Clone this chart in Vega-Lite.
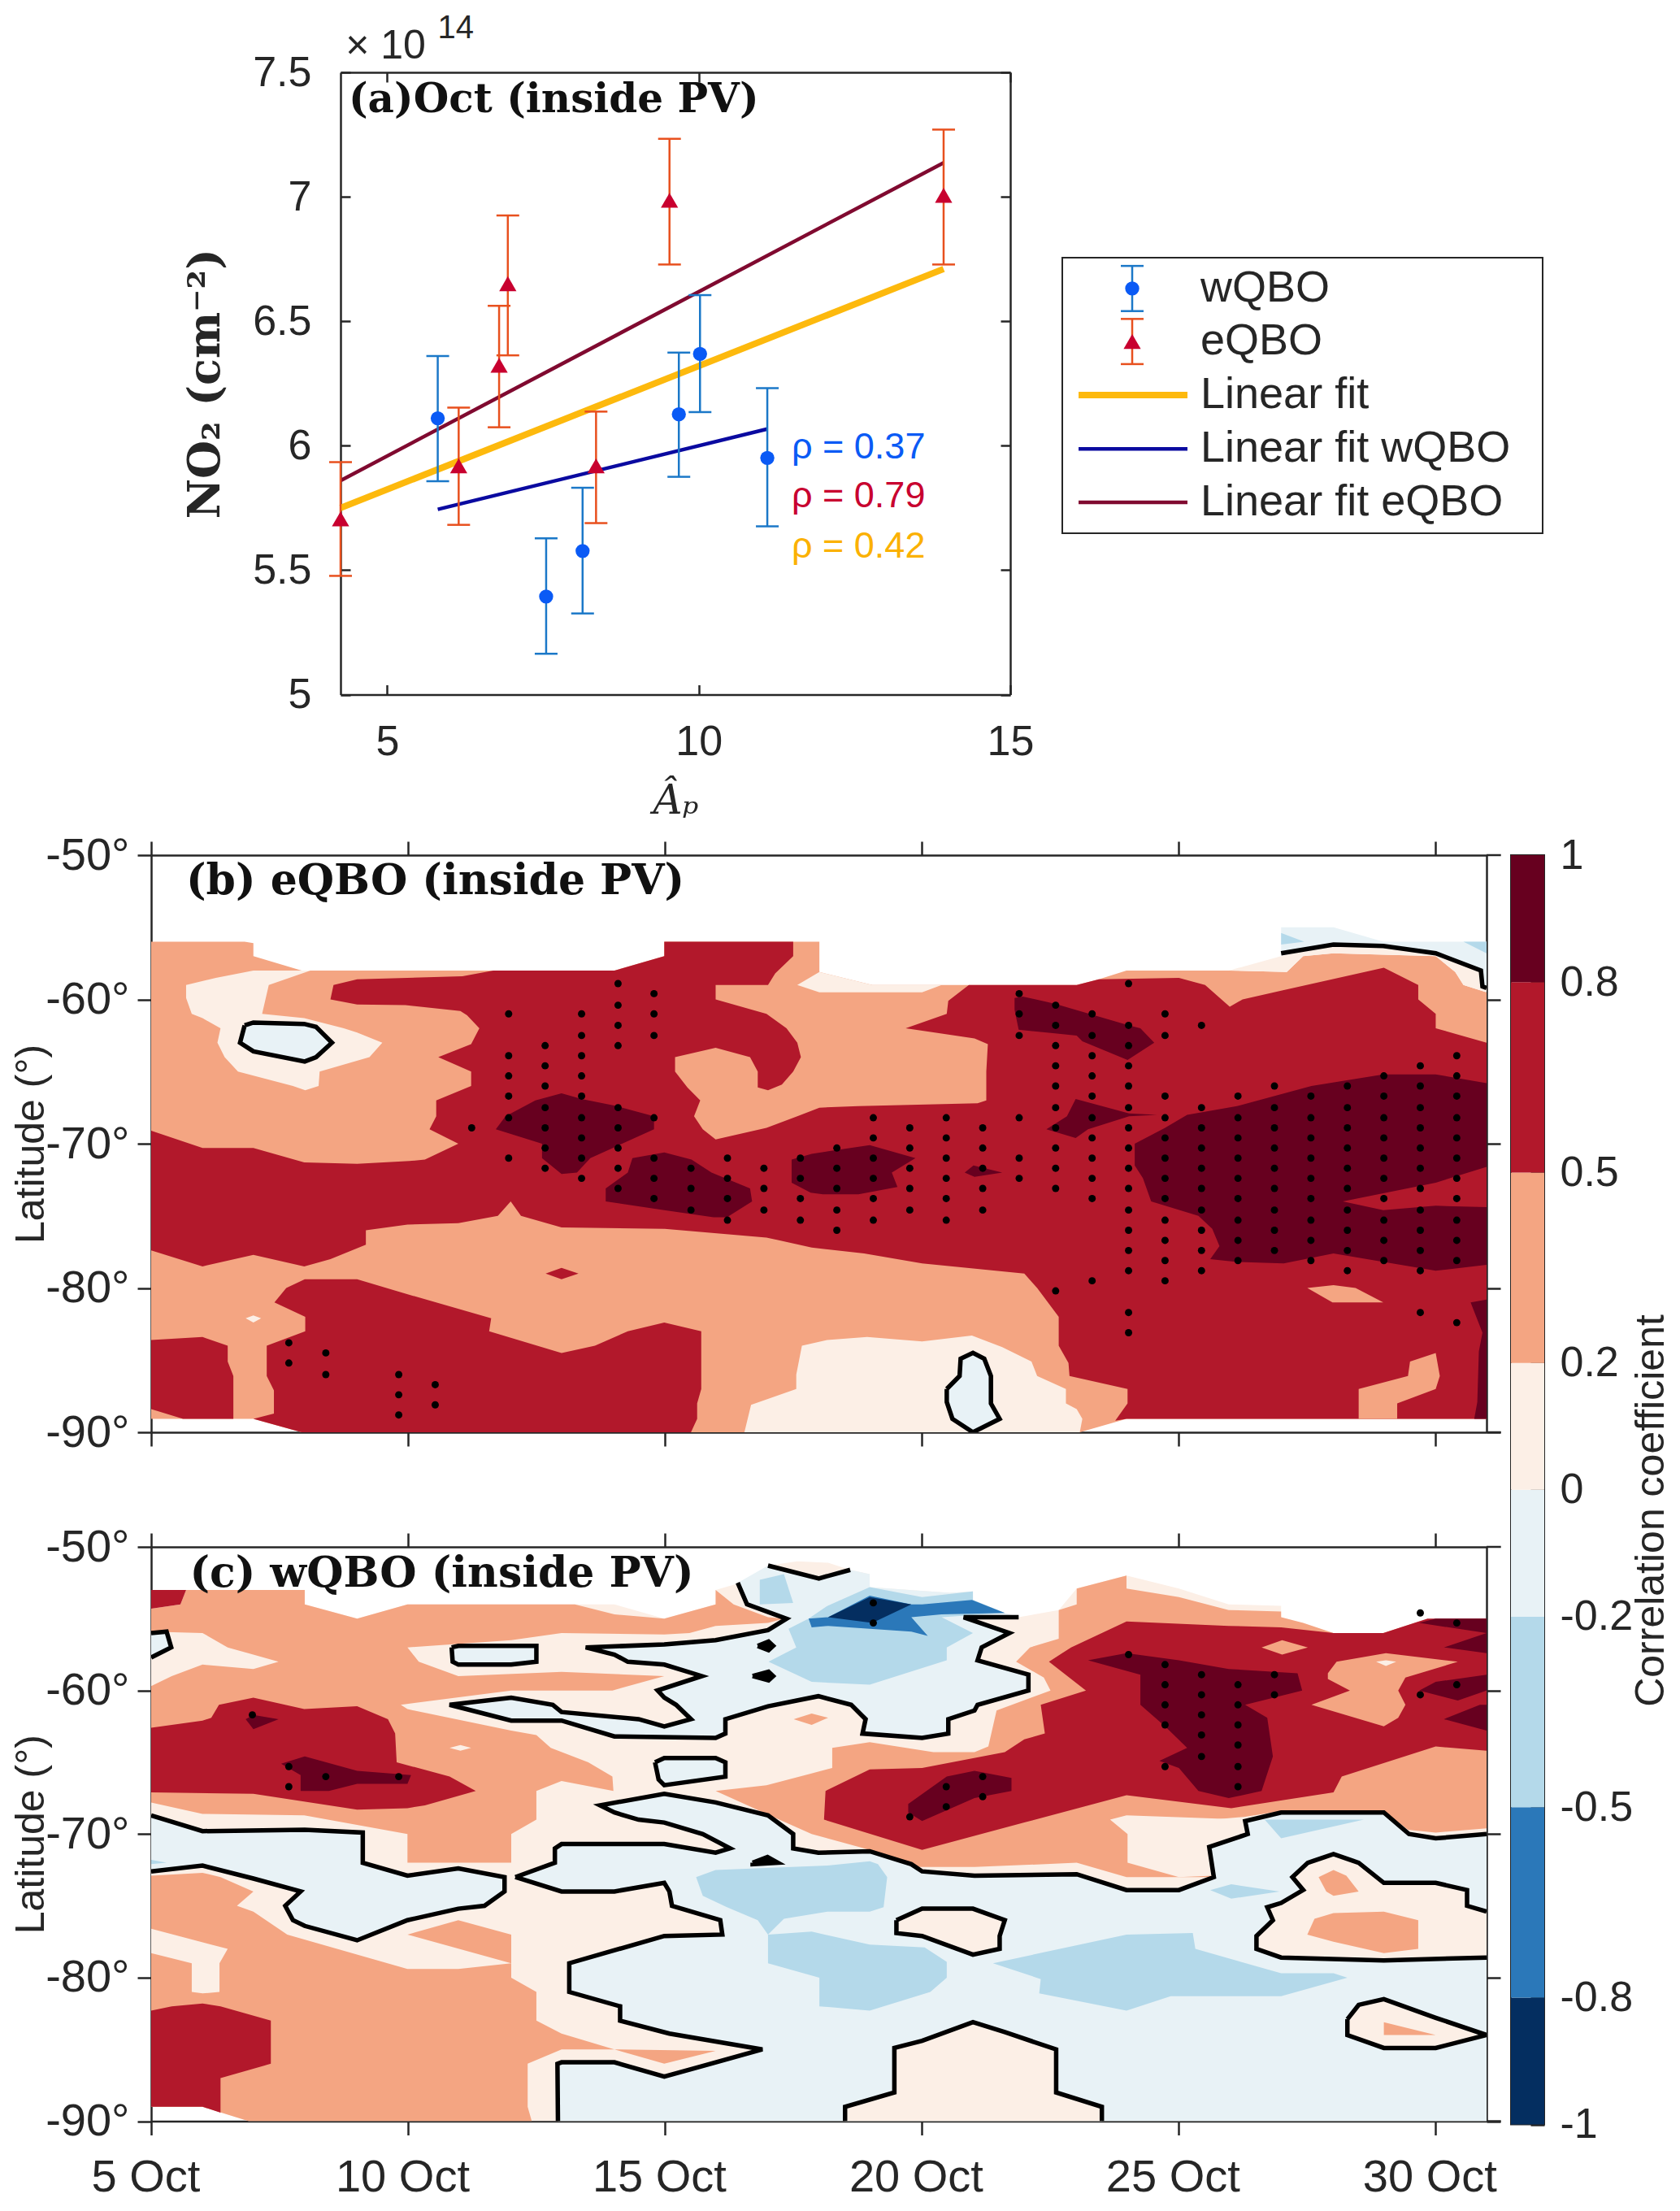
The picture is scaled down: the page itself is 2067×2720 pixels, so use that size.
{"$schema":"https://vega.github.io/schema/vega-lite/v6.json","background":"white","padding":{"left":13,"top":15,"right":0,"bottom":0},
"config":{"view":{"stroke":null},"font":"Liberation Sans","axis":{"grid":false,"labelFlush":false,"domainColor":"#262626","domainWidth":2.5,"tickColor":"#262626","tickWidth":2.5,"labelColor":"#262626","labelFont":"Liberation Sans","labelFontSize":52,"titleFont":"Liberation Sans","titleFontWeight":"normal","titleColor":"#262626"}},
"datasets":{
"pts":[{"s":"w","x":5.81,"y":6.11,"lo":5.857,"hi":6.36},{"s":"w","x":7.55,"y":5.394,"lo":5.164,"hi":5.628},{"s":"w","x":8.135,"y":5.577,"lo":5.326,"hi":5.831},{"s":"w","x":9.68,"y":6.126,"lo":5.875,"hi":6.374},{"s":"w","x":10.02,"y":6.369,"lo":6.135,"hi":6.605},{"s":"w","x":11.1,"y":5.951,"lo":5.676,"hi":6.231},{"s":"e","x":4.25,"y":5.706,"lo":5.477,"hi":5.934},{"s":"e","x":6.146,"y":5.919,"lo":5.682,"hi":6.153},{"s":"e","x":6.795,"y":6.323,"lo":6.074,"hi":6.562},{"s":"e","x":6.935,"y":6.651,"lo":6.363,"hi":6.925},{"s":"e","x":8.351,"y":5.919,"lo":5.689,"hi":6.137},{"s":"e","x":9.53,"y":6.986,"lo":6.728,"hi":7.233},{"s":"e","x":13.93,"y":7.006,"lo":6.728,"hi":7.27}],
"fits":[{"s":"all","x":4.25,"y":5.75},{"s":"all","x":13.93,"y":6.71},{"s":"w","x":5.81,"y":5.744},{"s":"w","x":11.1,"y":6.067},{"s":"e","x":4.25,"y":5.86},{"s":"e","x":13.93,"y":7.137}],
"rho":[{"t":"ρ = 0.37","x":11.49,"y":5.995,"c":"w"},{"t":"ρ = 0.79","x":11.49,"y":5.798,"c":"e"},{"t":"ρ = 0.42","x":11.49,"y":5.595,"c":"all"}],
"cb":[{"lo":-1,"hi":-0.8,"v":-0.9},{"lo":-0.8,"hi":-0.5,"v":-0.65},{"lo":-0.5,"hi":-0.2,"v":-0.35},{"lo":-0.2,"hi":0,"v":-0.1},{"lo":0,"hi":0.2,"v":0.1},{"lo":0.2,"hi":0.5,"v":0.35},{"lo":0.5,"hi":0.8,"v":0.65},{"lo":0.8,"hi":1,"v":0.9}],
"leg":[{"t":"wQBO","x":0.3275,"y":0.469},{"t":"eQBO","x":0.3275,"y":0.584},{"t":"Linear fit","x":0.3275,"y":0.7},{"t":"Linear fit wQBO","x":0.3275,"y":0.817},{"t":"Linear fit eQBO","x":0.3275,"y":0.933}],
"db":[{"d":7.68,"l":-83.8},{"d":7.68,"l":-85.2},{"d":8.4,"l":-84.5},{"d":8.4,"l":-86},{"d":9.82,"l":-86},{"d":9.82,"l":-87.4},{"d":9.82,"l":-88.8},{"d":10.53,"l":-86.7},{"d":10.53,"l":-88.1},{"d":11.24,"l":-68.9},
{"d":11.96,"l":-61},{"d":11.96,"l":-63.9},{"d":11.96,"l":-65.3},{"d":11.96,"l":-66.7},{"d":11.96,"l":-68.2},{"d":11.96,"l":-71},
{"d":12.67,"l":-63.2},{"d":12.67,"l":-64.6},{"d":12.67,"l":-66},{"d":12.67,"l":-67.5},{"d":12.67,"l":-68.9},{"d":12.67,"l":-70.3},{"d":12.67,"l":-71.7},
{"d":13.38,"l":-61},{"d":13.38,"l":-62.5},{"d":13.38,"l":-63.9},{"d":13.38,"l":-65.3},{"d":13.38,"l":-66.7},{"d":13.38,"l":-68.2},{"d":13.38,"l":-69.6},{"d":13.38,"l":-71},{"d":13.38,"l":-72.4},
{"d":14.09,"l":-58.9},{"d":14.09,"l":-60.4},{"d":14.09,"l":-61.8},{"d":14.09,"l":-63.2},{"d":14.09,"l":-67.5},{"d":14.09,"l":-68.9},{"d":14.09,"l":-70.3},{"d":14.09,"l":-71.7},{"d":14.09,"l":-73.1},
{"d":14.79,"l":-59.6},{"d":14.79,"l":-61},{"d":14.79,"l":-62.5},{"d":14.79,"l":-68.2},{"d":14.79,"l":-71},{"d":14.79,"l":-72.4},{"d":14.79,"l":-73.8},
{"d":15.51,"l":-71.7},{"d":15.51,"l":-73.1},{"d":15.51,"l":-74.6},{"d":16.22,"l":-71},{"d":16.22,"l":-72.4},{"d":16.22,"l":-73.8},{"d":16.22,"l":-75.3},{"d":16.93,"l":-71.7},{"d":16.93,"l":-73.1},{"d":16.93,"l":-74.6},{"d":17.64,"l":-71},{"d":17.64,"l":-72.4},{"d":17.64,"l":-73.8},{"d":17.64,"l":-75.3},
{"d":18.35,"l":-70.3},{"d":18.35,"l":-71.7},{"d":18.35,"l":-73.1},{"d":18.35,"l":-74.6},{"d":18.35,"l":-76},
{"d":19.06,"l":-68.2},{"d":19.06,"l":-69.6},{"d":19.06,"l":-71},{"d":19.06,"l":-72.4},{"d":19.06,"l":-73.8},{"d":19.06,"l":-75.3},
{"d":19.77,"l":-68.9},{"d":19.77,"l":-70.3},{"d":19.77,"l":-71.7},{"d":19.77,"l":-73.1},{"d":19.77,"l":-74.6},
{"d":20.48,"l":-68.2},{"d":20.48,"l":-69.6},{"d":20.48,"l":-71},{"d":20.48,"l":-72.4},{"d":20.48,"l":-73.8},{"d":20.48,"l":-75.3},
{"d":21.19,"l":-68.9},{"d":21.19,"l":-70.3},{"d":21.19,"l":-71.7},{"d":21.19,"l":-73.1},{"d":21.19,"l":-74.6},
{"d":21.9,"l":-59.6},{"d":21.9,"l":-61},{"d":21.9,"l":-62.5},{"d":21.9,"l":-68.2},{"d":21.9,"l":-71},{"d":21.9,"l":-72.4},
{"d":22.61,"l":-60.4},{"d":22.61,"l":-61.8},{"d":22.61,"l":-63.2},{"d":22.61,"l":-64.6},{"d":22.61,"l":-66},{"d":22.61,"l":-67.5},{"d":22.61,"l":-68.9},{"d":22.61,"l":-70.3},{"d":22.61,"l":-71.7},{"d":22.61,"l":-73.1},{"d":22.61,"l":-80.2},
{"d":23.32,"l":-61},{"d":23.32,"l":-62.5},{"d":23.32,"l":-63.9},{"d":23.32,"l":-65.3},{"d":23.32,"l":-66.7},{"d":23.32,"l":-68.2},{"d":23.32,"l":-69.6},{"d":23.32,"l":-71},{"d":23.32,"l":-72.4},{"d":23.32,"l":-73.8},{"d":23.32,"l":-79.5},
{"d":24.03,"l":-58.9},{"d":24.03,"l":-61.8},{"d":24.03,"l":-63.2},{"d":24.03,"l":-64.6},{"d":24.03,"l":-66},{"d":24.03,"l":-67.5},{"d":24.03,"l":-68.9},{"d":24.03,"l":-70.3},{"d":24.03,"l":-71.7},{"d":24.03,"l":-73.1},{"d":24.03,"l":-74.6},{"d":24.03,"l":-76},{"d":24.03,"l":-77.4},{"d":24.03,"l":-78.8},{"d":24.03,"l":-81.7},{"d":24.03,"l":-83.1},
{"d":24.74,"l":-61},{"d":24.74,"l":-62.5},{"d":24.74,"l":-66.7},{"d":24.74,"l":-68.2},{"d":24.74,"l":-69.6},{"d":24.74,"l":-71},{"d":24.74,"l":-72.4},{"d":24.74,"l":-73.8},{"d":24.74,"l":-75.3},{"d":24.74,"l":-76.7},{"d":24.74,"l":-78.1},{"d":24.74,"l":-79.5},
{"d":25.45,"l":-61.8},{"d":25.45,"l":-67.5},{"d":25.45,"l":-68.9},{"d":25.45,"l":-70.3},{"d":25.45,"l":-71.7},{"d":25.45,"l":-73.1},{"d":25.45,"l":-74.6},{"d":25.45,"l":-76},{"d":25.45,"l":-77.4},{"d":25.45,"l":-78.8},
{"d":26.16,"l":-66.7},{"d":26.16,"l":-68.2},{"d":26.16,"l":-69.6},{"d":26.16,"l":-71},{"d":26.16,"l":-72.4},{"d":26.16,"l":-73.8},{"d":26.16,"l":-75.3},{"d":26.16,"l":-76.7},{"d":26.16,"l":-78.1},
{"d":26.87,"l":-66},{"d":26.87,"l":-67.5},{"d":26.87,"l":-68.9},{"d":26.87,"l":-70.3},{"d":26.87,"l":-71.7},{"d":26.87,"l":-73.1},{"d":26.87,"l":-74.6},{"d":26.87,"l":-76},{"d":26.87,"l":-77.4},
{"d":27.58,"l":-66.7},{"d":27.58,"l":-68.2},{"d":27.58,"l":-69.6},{"d":27.58,"l":-71},{"d":27.58,"l":-72.4},{"d":27.58,"l":-73.8},{"d":27.58,"l":-75.3},{"d":27.58,"l":-76.7},{"d":27.58,"l":-78.1},
{"d":28.29,"l":-66},{"d":28.29,"l":-67.5},{"d":28.29,"l":-68.9},{"d":28.29,"l":-70.3},{"d":28.29,"l":-71.7},{"d":28.29,"l":-73.1},{"d":28.29,"l":-74.6},{"d":28.29,"l":-76},{"d":28.29,"l":-77.4},{"d":28.29,"l":-78.8},
{"d":29,"l":-65.3},{"d":29,"l":-66.7},{"d":29,"l":-68.2},{"d":29,"l":-69.6},{"d":29,"l":-71},{"d":29,"l":-72.4},{"d":29,"l":-73.8},{"d":29,"l":-75.3},{"d":29,"l":-76.7},{"d":29,"l":-78.1},
{"d":29.71,"l":-64.6},{"d":29.71,"l":-66},{"d":29.71,"l":-67.5},{"d":29.71,"l":-68.9},{"d":29.71,"l":-70.3},{"d":29.71,"l":-71.7},{"d":29.71,"l":-73.1},{"d":29.71,"l":-74.6},{"d":29.71,"l":-76},{"d":29.71,"l":-77.4},{"d":29.71,"l":-78.8},{"d":29.71,"l":-81.7},
{"d":30.42,"l":-63.9},{"d":30.42,"l":-65.3},{"d":30.42,"l":-66.7},{"d":30.42,"l":-68.2},{"d":30.42,"l":-69.6},{"d":30.42,"l":-71},{"d":30.42,"l":-72.4},{"d":30.42,"l":-73.8},{"d":30.42,"l":-75.3},{"d":30.42,"l":-76.7},{"d":30.42,"l":-78.1},{"d":30.42,"l":-82.4}],
"dc":[{"d":6.97,"l":-61.7},{"d":7.68,"l":-65.3},{"d":7.68,"l":-66.7},{"d":8.4,"l":-66},{"d":9.82,"l":-66},{"d":19.06,"l":-53.9},{"d":19.06,"l":-55.3},{"d":19.77,"l":-68.8},{"d":20.48,"l":-66.7},{"d":20.48,"l":-68.1},{"d":21.19,"l":-66},{"d":21.19,"l":-67.4},{"d":24.03,"l":-57.5},{"d":24.74,"l":-58.2},{"d":24.74,"l":-59.6},{"d":24.74,"l":-61},{"d":24.74,"l":-62.4},{"d":24.74,"l":-65.3},{"d":25.45,"l":-58.9},{"d":25.45,"l":-60.3},{"d":25.45,"l":-61.7},{"d":25.45,"l":-63.1},{"d":25.45,"l":-64.6},{"d":26.16,"l":-59.6},{"d":26.16,"l":-61},{"d":26.16,"l":-62.4},{"d":26.16,"l":-63.8},{"d":26.16,"l":-65.3},{"d":26.16,"l":-66.7},{"d":26.87,"l":-58.9},{"d":26.87,"l":-60.3},{"d":29.71,"l":-54.6},{"d":29.71,"l":-60.3},{"d":30.42,"l":-55.3},{"d":30.42,"l":-59.6}],
"fb":[
{"g":"a0","v":0.35,"d":5,"l":-56},{"g":"a0","v":0.35,"d":6.82,"l":-56},{"g":"a0","v":0.35,"d":6.99,"l":-56.1},{"g":"a0","v":0.35,"d":6.99,"l":-57},{"g":"a0","v":0.35,"d":7.93,"l":-58},{"g":"a0","v":0.35,"d":14.02,"l":-58},{"g":"a0","v":0.35,"d":14.99,"l":-57},{"g":"a0","v":0.35,"d":14.99,"l":-56},{"g":"a0","v":0.35,"d":18.01,"l":-56},{"g":"a0","v":0.35,"d":18.01,"l":-58.1},{"g":"a0","v":0.35,"d":19.04,"l":-59},{"g":"a0","v":0.35,"d":20.92,"l":-59},{"g":"a0","v":0.35,"d":23.02,"l":-59},{"g":"a0","v":0.35,"d":23.45,"l":-58.6},{"g":"a0","v":0.35,"d":23.99,"l":-58},{"g":"a0","v":0.35,"d":25.98,"l":-58},{"g":"a0","v":0.35,"d":27.11,"l":-58.1},{"g":"a0","v":0.35,"d":27.43,"l":-57},{"g":"a0","v":0.35,"d":28.02,"l":-56.8},{"g":"a0","v":0.35,"d":30.01,"l":-57},{"g":"a0","v":0.35,"d":30.39,"l":-58.1},{"g":"a0","v":0.35,"d":30.55,"l":-59},{"g":"a0","v":0.35,"d":31,"l":-59.5},{"g":"a0","v":0.35,"d":31,"l":-89.07},{"g":"a0","v":0.35,"d":23.99,"l":-89.07},{"g":"a0","v":0.35,"d":23.08,"l":-90},{"g":"a0","v":0.35,"d":7.93,"l":-90},{"g":"a0","v":0.35,"d":6.99,"l":-89.07},{"g":"a0","v":0.35,"d":5,"l":-89.07},
{"g":"a1","v":0.65,"d":5,"l":-69.1},{"g":"a1","v":0.65,"d":6,"l":-70.3},{"g":"a1","v":0.65,"d":6.99,"l":-70.3},{"g":"a1","v":0.65,"d":7.98,"l":-71.3},{"g":"a1","v":0.65,"d":9.01,"l":-71.4},{"g":"a1","v":0.65,"d":10.03,"l":-71.2},{"g":"a1","v":0.65,"d":10.33,"l":-71.1},{"g":"a1","v":0.65,"d":10.98,"l":-70},{"g":"a1","v":0.65,"d":10.42,"l":-69},{"g":"a1","v":0.65,"d":10.55,"l":-68.1},{"g":"a1","v":0.65,"d":10.55,"l":-67},{"g":"a1","v":0.65,"d":11.23,"l":-66},{"g":"a1","v":0.65,"d":11.23,"l":-65},{"g":"a1","v":0.65,"d":10.59,"l":-64},{"g":"a1","v":0.65,"d":11.23,"l":-63.1},{"g":"a1","v":0.65,"d":11.39,"l":-62},{"g":"a1","v":0.65,"d":11.15,"l":-61.1},{"g":"a1","v":0.65,"d":11.02,"l":-60.8},{"g":"a1","v":0.65,"d":9.95,"l":-60.4},{"g":"a1","v":0.65,"d":9.01,"l":-60.35},{"g":"a1","v":0.65,"d":8.49,"l":-60},{"g":"a1","v":0.65,"d":8.55,"l":-59},{"g":"a1","v":0.65,"d":9.01,"l":-58.6},{"g":"a1","v":0.65,"d":11.06,"l":-58.4},{"g":"a1","v":0.65,"d":11.66,"l":-58},{"g":"a1","v":0.65,"d":14.02,"l":-58},{"g":"a1","v":0.65,"d":14.99,"l":-57},{"g":"a1","v":0.65,"d":14.99,"l":-56},{"g":"a1","v":0.65,"d":17.5,"l":-56},{"g":"a1","v":0.65,"d":17.5,"l":-57},{"g":"a1","v":0.65,"d":17.15,"l":-58.2},{"g":"a1","v":0.65,"d":17.01,"l":-59},{"g":"a1","v":0.65,"d":15.99,"l":-59},{"g":"a1","v":0.65,"d":15.99,"l":-60},{"g":"a1","v":0.65,"d":16.98,"l":-61},{"g":"a1","v":0.65,"d":17.37,"l":-62},{"g":"a1","v":0.65,"d":17.58,"l":-63},{"g":"a1","v":0.65,"d":17.65,"l":-64},{"g":"a1","v":0.65,"d":17.5,"l":-65},{"g":"a1","v":0.65,"d":17.28,"l":-65.9},{"g":"a1","v":0.65,"d":17.01,"l":-66.3},{"g":"a1","v":0.65,"d":16.81,"l":-66.1},{"g":"a1","v":0.65,"d":16.81,"l":-65},{"g":"a1","v":0.65,"d":16.66,"l":-64},{"g":"a1","v":0.65,"d":15.99,"l":-63.35},{"g":"a1","v":0.65,"d":15.2,"l":-64},{"g":"a1","v":0.65,"d":15.2,"l":-65},{"g":"a1","v":0.65,"d":15.44,"l":-66.1},{"g":"a1","v":0.65,"d":15.69,"l":-67},{"g":"a1","v":0.65,"d":15.57,"l":-68.1},{"g":"a1","v":0.65,"d":15.74,"l":-69},{"g":"a1","v":0.65,"d":15.99,"l":-69.7},{"g":"a1","v":0.65,"d":16.98,"l":-68.9},{"g":"a1","v":0.65,"d":17.58,"l":-68.1},{"g":"a1","v":0.65,"d":18.01,"l":-67.5},{"g":"a1","v":0.65,"d":18.77,"l":-67.4},{"g":"a1","v":0.65,"d":21.09,"l":-67.2},{"g":"a1","v":0.65,"d":21.26,"l":-67},{"g":"a1","v":0.65,"d":21.26,"l":-65},{"g":"a1","v":0.65,"d":21.29,"l":-63.1},{"g":"a1","v":0.65,"d":21.03,"l":-62.7},{"g":"a1","v":0.65,"d":19.69,"l":-62},{"g":"a1","v":0.65,"d":20.49,"l":-61},{"g":"a1","v":0.65,"d":20.52,"l":-60.1},{"g":"a1","v":0.65,"d":20.92,"l":-59},{"g":"a1","v":0.65,"d":23.02,"l":-59},{"g":"a1","v":0.65,"d":23.45,"l":-58.6},{"g":"a1","v":0.65,"d":25.01,"l":-58.5},{"g":"a1","v":0.65,"d":25.52,"l":-59},{"g":"a1","v":0.65,"d":26,"l":-60.5},{"g":"a1","v":0.65,"d":26.25,"l":-60},{"g":"a1","v":0.65,"d":27,"l":-59.4},{"g":"a1","v":0.65,"d":29,"l":-57.8},{"g":"a1","v":0.65,"d":29.67,"l":-59},{"g":"a1","v":0.65,"d":29.67,"l":-60},{"g":"a1","v":0.65,"d":30.01,"l":-61},{"g":"a1","v":0.65,"d":30.01,"l":-62},{"g":"a1","v":0.65,"d":31,"l":-63},{"g":"a1","v":0.65,"d":31,"l":-89.07},{"g":"a1","v":0.65,"d":23.99,"l":-89.07},{"g":"a1","v":0.65,"d":23.77,"l":-89.2},{"g":"a1","v":0.65,"d":24.01,"l":-88},{"g":"a1","v":0.65,"d":24.01,"l":-87},{"g":"a1","v":0.65,"d":22.88,"l":-86.1},{"g":"a1","v":0.65,"d":22.86,"l":-85.2},{"g":"a1","v":0.65,"d":22.67,"l":-84},{"g":"a1","v":0.65,"d":22.67,"l":-82},{"g":"a1","v":0.65,"d":22.25,"l":-80},{"g":"a1","v":0.65,"d":22,"l":-79},{"g":"a1","v":0.65,"d":20.01,"l":-78.3},{"g":"a1","v":0.65,"d":18.88,"l":-77.6},{"g":"a1","v":0.65,"d":17.86,"l":-77.2},{"g":"a1","v":0.65,"d":16.98,"l":-76.5},{"g":"a1","v":0.65,"d":15,"l":-75.9},{"g":"a1","v":0.65,"d":12.99,"l":-75.8},{"g":"a1","v":0.65,"d":12.2,"l":-75},{"g":"a1","v":0.65,"d":12,"l":-74},{"g":"a1","v":0.65,"d":11.75,"l":-75},{"g":"a1","v":0.65,"d":10.98,"l":-75.5},{"g":"a1","v":0.65,"d":9.99,"l":-75.6},{"g":"a1","v":0.65,"d":9.18,"l":-76},{"g":"a1","v":0.65,"d":9.18,"l":-77},{"g":"a1","v":0.65,"d":8.49,"l":-78},{"g":"a1","v":0.65,"d":7.98,"l":-78.5},{"g":"a1","v":0.65,"d":6.99,"l":-77.7},{"g":"a1","v":0.65,"d":6,"l":-78.5},{"g":"a1","v":0.65,"d":5,"l":-77.4},
{"g":"a2","v":0.1,"d":5.68,"l":-59},{"g":"a2","v":0.1,"d":6.26,"l":-58.5},{"g":"a2","v":0.1,"d":6.99,"l":-58},{"g":"a2","v":0.1,"d":8.1,"l":-58},{"g":"a2","v":0.1,"d":7.29,"l":-59},{"g":"a2","v":0.1,"d":7.16,"l":-61},{"g":"a2","v":0.1,"d":7.98,"l":-61.3},{"g":"a2","v":0.1,"d":8.75,"l":-62},{"g":"a2","v":0.1,"d":9.01,"l":-62.3},{"g":"a2","v":0.1,"d":9.5,"l":-63},{"g":"a2","v":0.1,"d":9.25,"l":-64},{"g":"a2","v":0.1,"d":8.28,"l":-65},{"g":"a2","v":0.1,"d":8.26,"l":-66},{"g":"a2","v":0.1,"d":8,"l":-66.3},{"g":"a2","v":0.1,"d":7.76,"l":-66},{"g":"a2","v":0.1,"d":6.69,"l":-65},{"g":"a2","v":0.1,"d":6.43,"l":-64},{"g":"a2","v":0.1,"d":6.29,"l":-63},{"g":"a2","v":0.1,"d":6.35,"l":-62},{"g":"a2","v":0.1,"d":6,"l":-61.3},{"g":"a2","v":0.1,"d":5.79,"l":-61},{"g":"a2","v":0.1,"d":5.68,"l":-59.9},
{"g":"a3","v":-0.1,"d":6.82,"l":-61.8},{"g":"a3","v":-0.1,"d":6.99,"l":-61.6},{"g":"a3","v":-0.1,"d":7.98,"l":-61.7},{"g":"a3","v":-0.1,"d":8.21,"l":-61.9},{"g":"a3","v":-0.1,"d":8.52,"l":-63},{"g":"a3","v":-0.1,"d":8.21,"l":-64},{"g":"a3","v":-0.1,"d":7.99,"l":-64.3},{"g":"a3","v":-0.1,"d":6.99,"l":-63.6},{"g":"a3","v":-0.1,"d":6.73,"l":-63},{"g":"a3","v":-0.1,"d":6.82,"l":-61.8},
{"g":"a4","v":0.1,"d":6.84,"l":-82.1},{"g":"a4","v":0.1,"d":6.99,"l":-81.9},{"g":"a4","v":0.1,"d":7.14,"l":-82.1},{"g":"a4","v":0.1,"d":6.99,"l":-82.4},
{"g":"a5","v":0.65,"d":12.68,"l":-79},{"g":"a5","v":0.65,"d":12.99,"l":-78.6},{"g":"a5","v":0.65,"d":13.32,"l":-79},{"g":"a5","v":0.65,"d":12.99,"l":-79.4},
{"g":"a6","v":0.65,"d":5,"l":-83.6},{"g":"a6","v":0.65,"d":6,"l":-83.4},{"g":"a6","v":0.65,"d":6.49,"l":-84},{"g":"a6","v":0.65,"d":6.49,"l":-85.1},{"g":"a6","v":0.65,"d":6.6,"l":-86.1},{"g":"a6","v":0.65,"d":6.6,"l":-89.07},{"g":"a6","v":0.65,"d":5.62,"l":-89.07},{"g":"a6","v":0.65,"d":5,"l":-88.4},
{"g":"a7","v":0.65,"d":7.99,"l":-79.4},{"g":"a7","v":0.65,"d":9.01,"l":-79.4},{"g":"a7","v":0.65,"d":9.86,"l":-80.3},{"g":"a7","v":0.65,"d":11.62,"l":-82.1},{"g":"a7","v":0.65,"d":11.58,"l":-83},{"g":"a7","v":0.65,"d":12.99,"l":-84.5},{"g":"a7","v":0.65,"d":13.64,"l":-84},{"g":"a7","v":0.65,"d":14.28,"l":-83},{"g":"a7","v":0.65,"d":14.99,"l":-82.4},{"g":"a7","v":0.65,"d":15.71,"l":-83},{"g":"a7","v":0.65,"d":15.71,"l":-87},{"g":"a7","v":0.65,"d":15.63,"l":-88},{"g":"a7","v":0.65,"d":15.63,"l":-89.07},{"g":"a7","v":0.65,"d":15.51,"l":-90},{"g":"a7","v":0.65,"d":7.93,"l":-90},{"g":"a7","v":0.65,"d":6.99,"l":-89.07},{"g":"a7","v":0.65,"d":7.39,"l":-88.7},{"g":"a7","v":0.65,"d":7.39,"l":-87.1},{"g":"a7","v":0.65,"d":7.25,"l":-86.1},{"g":"a7","v":0.65,"d":7.25,"l":-84},{"g":"a7","v":0.65,"d":8,"l":-83},{"g":"a7","v":0.65,"d":8,"l":-82},{"g":"a7","v":0.65,"d":7.4,"l":-81},{"g":"a7","v":0.65,"d":7.63,"l":-80},
{"g":"a8","v":0.1,"d":16.55,"l":-90},{"g":"a8","v":0.1,"d":16.68,"l":-88.1},{"g":"a8","v":0.1,"d":17.56,"l":-87},{"g":"a8","v":0.1,"d":17.56,"l":-86},{"g":"a8","v":0.1,"d":17.67,"l":-84},{"g":"a8","v":0.1,"d":18.16,"l":-83.6},{"g":"a8","v":0.1,"d":18.94,"l":-83.4},{"g":"a8","v":0.1,"d":20.01,"l":-83.7},{"g":"a8","v":0.1,"d":20.98,"l":-83.3},{"g":"a8","v":0.1,"d":21.57,"l":-84.1},{"g":"a8","v":0.1,"d":22.14,"l":-85.1},{"g":"a8","v":0.1,"d":22.25,"l":-86.1},{"g":"a8","v":0.1,"d":22.81,"l":-87},{"g":"a8","v":0.1,"d":22.81,"l":-88},{"g":"a8","v":0.1,"d":23.02,"l":-88.4},{"g":"a8","v":0.1,"d":23.13,"l":-89.07},{"g":"a8","v":0.1,"d":23.08,"l":-90},
{"g":"a9","v":-0.1,"d":20.49,"l":-87},{"g":"a9","v":-0.1,"d":20.74,"l":-86.1},{"g":"a9","v":-0.1,"d":20.76,"l":-84.9},{"g":"a9","v":-0.1,"d":21,"l":-84.5},{"g":"a9","v":-0.1,"d":21.22,"l":-84.9},{"g":"a9","v":-0.1,"d":21.35,"l":-86.1},{"g":"a9","v":-0.1,"d":21.35,"l":-88},{"g":"a9","v":-0.1,"d":21.52,"l":-89.07},{"g":"a9","v":-0.1,"d":21,"l":-90},{"g":"a9","v":-0.1,"d":20.6,"l":-89.07},{"g":"a9","v":-0.1,"d":20.49,"l":-87.9},{"g":"a9","v":-0.1,"d":20.49,"l":-87},
{"g":"b0","v":0.35,"d":28.51,"l":-87},{"g":"b0","v":0.35,"d":29.47,"l":-86.1},{"g":"b0","v":0.35,"d":29.51,"l":-85.1},{"g":"b0","v":0.35,"d":30.01,"l":-84.5},{"g":"b0","v":0.35,"d":30.09,"l":-86.1},{"g":"b0","v":0.35,"d":30.01,"l":-87},{"g":"b0","v":0.35,"d":29.26,"l":-88},{"g":"b0","v":0.35,"d":29.26,"l":-89.07},{"g":"b0","v":0.35,"d":28.51,"l":-89.07},
{"g":"b1","v":0.35,"d":27.51,"l":-80},{"g":"b1","v":0.35,"d":28.02,"l":-79.8},{"g":"b1","v":0.35,"d":28.45,"l":-80},{"g":"b1","v":0.35,"d":28.99,"l":-81},{"g":"b1","v":0.35,"d":28,"l":-81},
{"g":"b2","v":0.9,"d":30.69,"l":-81},{"g":"b2","v":0.9,"d":31,"l":-80.8},{"g":"b2","v":0.9,"d":31,"l":-89.07},{"g":"b2","v":0.9,"d":30.76,"l":-89.07},{"g":"b2","v":0.9,"d":30.82,"l":-87.9},{"g":"b2","v":0.9,"d":30.85,"l":-84.4},{"g":"b2","v":0.9,"d":30.92,"l":-83.1},
{"g":"b3","v":0.9,"d":11.71,"l":-69},{"g":"b3","v":0.9,"d":11.9,"l":-68.1},{"g":"b3","v":0.9,"d":12.48,"l":-67},{"g":"b3","v":0.9,"d":12.99,"l":-66.5},{"g":"b3","v":0.9,"d":13.38,"l":-66.9},{"g":"b3","v":0.9,"d":14.07,"l":-67.4},{"g":"b3","v":0.9,"d":14.79,"l":-68.1},{"g":"b3","v":0.9,"d":14.79,"l":-69},{"g":"b3","v":0.9,"d":13.55,"l":-71},{"g":"b3","v":0.9,"d":13.29,"l":-72},{"g":"b3","v":0.9,"d":12.99,"l":-72.1},{"g":"b3","v":0.9,"d":12.61,"l":-71},{"g":"b3","v":0.9,"d":12.61,"l":-70},
{"g":"b4","v":0.9,"d":13.85,"l":-73.1},{"g":"b4","v":0.9,"d":14.28,"l":-72},{"g":"b4","v":0.9,"d":14.37,"l":-71},{"g":"b4","v":0.9,"d":14.99,"l":-70.6},{"g":"b4","v":0.9,"d":15.52,"l":-71.1},{"g":"b4","v":0.9,"d":15.91,"l":-72},{"g":"b4","v":0.9,"d":16.66,"l":-73.1},{"g":"b4","v":0.9,"d":16.7,"l":-74},{"g":"b4","v":0.9,"d":16.21,"l":-75.1},{"g":"b4","v":0.9,"d":15.95,"l":-75.1},{"g":"b4","v":0.9,"d":14.99,"l":-74.6},{"g":"b4","v":0.9,"d":13.85,"l":-74},
{"g":"b5","v":0.9,"d":17.47,"l":-71.1},{"g":"b5","v":0.9,"d":17.86,"l":-70.7},{"g":"b5","v":0.9,"d":18.99,"l":-70.1},{"g":"b5","v":0.9,"d":19.88,"l":-71},{"g":"b5","v":0.9,"d":19.42,"l":-72},{"g":"b5","v":0.9,"d":19.53,"l":-73},{"g":"b5","v":0.9,"d":18.77,"l":-73.5},{"g":"b5","v":0.9,"d":18.08,"l":-73.5},{"g":"b5","v":0.9,"d":17.84,"l":-73.4},{"g":"b5","v":0.9,"d":17.47,"l":-72.7},
{"g":"b6","v":0.9,"d":20.84,"l":-72},{"g":"b6","v":0.9,"d":21.01,"l":-71.5},{"g":"b6","v":0.9,"d":21.57,"l":-72},{"g":"b6","v":0.9,"d":21.03,"l":-72.3},
{"g":"b7","v":0.9,"d":21.81,"l":-59.9},{"g":"b7","v":0.9,"d":21.97,"l":-59.8},{"g":"b7","v":0.9,"d":22.59,"l":-60.3},{"g":"b7","v":0.9,"d":24.04,"l":-61.8},{"g":"b7","v":0.9,"d":24.26,"l":-62},{"g":"b7","v":0.9,"d":24.53,"l":-63},{"g":"b7","v":0.9,"d":24.01,"l":-64.2},{"g":"b7","v":0.9,"d":23.13,"l":-62.9},{"g":"b7","v":0.9,"d":23.02,"l":-62.5},{"g":"b7","v":0.9,"d":21.89,"l":-62.1},{"g":"b7","v":0.9,"d":21.81,"l":-60.7},
{"g":"b8","v":0.9,"d":22.43,"l":-69},{"g":"b8","v":0.9,"d":22.83,"l":-68.1},{"g":"b8","v":0.9,"d":23,"l":-66.9},{"g":"b8","v":0.9,"d":24.04,"l":-67.9},{"g":"b8","v":0.9,"d":24.58,"l":-68},{"g":"b8","v":0.9,"d":24.04,"l":-68.1},{"g":"b8","v":0.9,"d":23.24,"l":-69},{"g":"b8","v":0.9,"d":23,"l":-69.6},
{"g":"b9","v":0.9,"d":24.15,"l":-70},{"g":"b9","v":0.9,"d":24.74,"l":-68.9},{"g":"b9","v":0.9,"d":25.17,"l":-68},{"g":"b9","v":0.9,"d":26.14,"l":-67.4},{"g":"b9","v":0.9,"d":27.59,"l":-66},{"g":"b9","v":0.9,"d":28.99,"l":-65.2},{"g":"b9","v":0.9,"d":30.01,"l":-65.2},{"g":"b9","v":0.9,"d":31,"l":-65.8},{"g":"b9","v":0.9,"d":31,"l":-71.6},{"g":"b9","v":0.9,"d":30.01,"l":-72.7},{"g":"b9","v":0.9,"d":28.2,"l":-74},{"g":"b9","v":0.9,"d":28.99,"l":-74.6},{"g":"b9","v":0.9,"d":30.01,"l":-74.3},{"g":"b9","v":0.9,"d":31,"l":-74.4},{"g":"b9","v":0.9,"d":31,"l":-78.4},{"g":"b9","v":0.9,"d":30.01,"l":-78.8},{"g":"b9","v":0.9,"d":29,"l":-78.2},{"g":"b9","v":0.9,"d":28.02,"l":-77.6},{"g":"b9","v":0.9,"d":27.05,"l":-78.3},{"g":"b9","v":0.9,"d":26.14,"l":-78.2},{"g":"b9","v":0.9,"d":25.62,"l":-78},{"g":"b9","v":0.9,"d":25.8,"l":-77.1},{"g":"b9","v":0.9,"d":25.66,"l":-75.9},{"g":"b9","v":0.9,"d":25.39,"l":-75},{"g":"b9","v":0.9,"d":24.47,"l":-74},{"g":"b9","v":0.9,"d":24.31,"l":-72.4},{"g":"b9","v":0.9,"d":24.15,"l":-71.5},
{"g":"c0","v":0.1,"d":25.98,"l":-58},{"g":"c0","v":0.1,"d":27,"l":-57},{"g":"c0","v":0.1,"d":28.02,"l":-56.2},{"g":"c0","v":0.1,"d":28.99,"l":-56.3},{"g":"c0","v":0.1,"d":30.01,"l":-56.8},{"g":"c0","v":0.1,"d":30.89,"l":-58},{"g":"c0","v":0.1,"d":31,"l":-59.2},{"g":"c0","v":0.1,"d":31,"l":-59.5},{"g":"c0","v":0.1,"d":30.55,"l":-59},{"g":"c0","v":0.1,"d":30.39,"l":-58.1},{"g":"c0","v":0.1,"d":30.01,"l":-57},{"g":"c0","v":0.1,"d":28.02,"l":-56.8},{"g":"c0","v":0.1,"d":27.43,"l":-57},{"g":"c0","v":0.1,"d":27.11,"l":-58.1},
{"g":"c1","v":-0.1,"d":27,"l":-55},{"g":"c1","v":-0.1,"d":28.02,"l":-55},{"g":"c1","v":-0.1,"d":28.99,"l":-56},{"g":"c1","v":-0.1,"d":31,"l":-56},{"g":"c1","v":-0.1,"d":31,"l":-59.2},{"g":"c1","v":-0.1,"d":30.92,"l":-59.1},{"g":"c1","v":-0.1,"d":30.89,"l":-58},{"g":"c1","v":-0.1,"d":30.01,"l":-56.8},{"g":"c1","v":-0.1,"d":28.99,"l":-56.3},{"g":"c1","v":-0.1,"d":28.02,"l":-56.2},{"g":"c1","v":-0.1,"d":27,"l":-56.8},
{"g":"c2","v":-0.35,"d":27,"l":-55.4},{"g":"c2","v":-0.35,"d":27.45,"l":-56},{"g":"c2","v":-0.35,"d":27,"l":-56.2},
{"g":"c3","v":-0.35,"d":30.55,"l":-56},{"g":"c3","v":-0.35,"d":31,"l":-56},{"g":"c3","v":-0.35,"d":31,"l":-56.8},
{"g":"c4","v":0.1,"d":17.58,"l":-59},{"g":"c4","v":0.1,"d":18.01,"l":-58.1},{"g":"c4","v":0.1,"d":19.04,"l":-59},{"g":"c4","v":0.1,"d":20.39,"l":-59},{"g":"c4","v":0.1,"d":20.01,"l":-59.5},{"g":"c4","v":0.1,"d":18.4,"l":-59.5},{"g":"c4","v":0.1,"d":18.01,"l":-59.5}
],
"lb":[{"g":"k","d":27,"l":-56.8},{"g":"k","d":28.02,"l":-56.2},{"g":"k","d":28.99,"l":-56.3},{"g":"k","d":30.01,"l":-56.8},{"g":"k","d":30.89,"l":-58},{"g":"k","d":30.92,"l":-59.1},{"g":"k","d":31,"l":-59.2}],
"fc":[
{"g":"a0","v":0.1,"d":5,"l":-53},{"g":"a0","v":0.1,"d":7.99,"l":-53},{"g":"a0","v":0.1,"d":7.99,"l":-54},{"g":"a0","v":0.1,"d":9.01,"l":-55},{"g":"a0","v":0.1,"d":9.99,"l":-54},{"g":"a0","v":0.1,"d":14.02,"l":-54},{"g":"a0","v":0.1,"d":14.99,"l":-55},{"g":"a0","v":0.1,"d":15.99,"l":-54},{"g":"a0","v":0.1,"d":15.99,"l":-53},{"g":"a0","v":0.1,"d":16.47,"l":-52.5},{"g":"a0","v":0.1,"d":17.01,"l":-51.3},{"g":"a0","v":0.1,"d":17.58,"l":-51},{"g":"a0","v":0.1,"d":18.18,"l":-51.1},{"g":"a0","v":0.1,"d":18.61,"l":-51.6},{"g":"a0","v":0.1,"d":18.99,"l":-51.9},{"g":"a0","v":0.1,"d":18.99,"l":-52.8},{"g":"a0","v":0.1,"d":20.55,"l":-53.2},{"g":"a0","v":0.1,"d":21,"l":-53.1},{"g":"a0","v":0.1,"d":21,"l":-53.7},{"g":"a0","v":0.1,"d":21.62,"l":-54.6},{"g":"a0","v":0.1,"d":21.89,"l":-54.9},{"g":"a0","v":0.1,"d":22.67,"l":-54.4},{"g":"a0","v":0.1,"d":23.02,"l":-52.9},{"g":"a0","v":0.1,"d":23.99,"l":-52},{"g":"a0","v":0.1,"d":25.01,"l":-52.9},{"g":"a0","v":0.1,"d":25.98,"l":-54},{"g":"a0","v":0.1,"d":27,"l":-54.1},{"g":"a0","v":0.1,"d":27,"l":-54.9},{"g":"a0","v":0.1,"d":28.02,"l":-56},{"g":"a0","v":0.1,"d":28.99,"l":-56},{"g":"a0","v":0.1,"d":29.69,"l":-55.2},{"g":"a0","v":0.1,"d":31,"l":-55},{"g":"a0","v":0.1,"d":31,"l":-90},{"g":"a0","v":0.1,"d":6.9,"l":-90},{"g":"a0","v":0.1,"d":6,"l":-89},{"g":"a0","v":0.1,"d":5,"l":-89},
{"g":"a1","v":0.35,"d":5,"l":-54.3},{"g":"a1","v":0.35,"d":5.57,"l":-54},{"g":"a1","v":0.35,"d":5.68,"l":-53},{"g":"a1","v":0.35,"d":7.99,"l":-53},{"g":"a1","v":0.35,"d":7.99,"l":-54},{"g":"a1","v":0.35,"d":9.01,"l":-55},{"g":"a1","v":0.35,"d":9.99,"l":-54},{"g":"a1","v":0.35,"d":13.25,"l":-54},{"g":"a1","v":0.35,"d":14.02,"l":-54.7},{"g":"a1","v":0.35,"d":14.99,"l":-55},{"g":"a1","v":0.35,"d":15.99,"l":-54},{"g":"a1","v":0.35,"d":15.99,"l":-53},{"g":"a1","v":0.35,"d":16.34,"l":-54},{"g":"a1","v":0.35,"d":17.01,"l":-54.9},{"g":"a1","v":0.35,"d":17.32,"l":-55},{"g":"a1","v":0.35,"d":17.01,"l":-55.3},{"g":"a1","v":0.35,"d":15.99,"l":-55.5},{"g":"a1","v":0.35,"d":15.48,"l":-56},{"g":"a1","v":0.35,"d":14.99,"l":-56.1},{"g":"a1","v":0.35,"d":12.99,"l":-56},{"g":"a1","v":0.35,"d":12.01,"l":-56.5},{"g":"a1","v":0.35,"d":9.99,"l":-57},{"g":"a1","v":0.35,"d":10.21,"l":-58},{"g":"a1","v":0.35,"d":10.98,"l":-59},{"g":"a1","v":0.35,"d":12.99,"l":-58.7},{"g":"a1","v":0.35,"d":14.99,"l":-59},{"g":"a1","v":0.35,"d":13.98,"l":-60},{"g":"a1","v":0.35,"d":12.01,"l":-60},{"g":"a1","v":0.35,"d":9.86,"l":-61},{"g":"a1","v":0.35,"d":9.99,"l":-61.3},{"g":"a1","v":0.35,"d":12.01,"l":-62.8},{"g":"a1","v":0.35,"d":12.5,"l":-63.1},{"g":"a1","v":0.35,"d":12.78,"l":-64},{"g":"a1","v":0.35,"d":13.51,"l":-65},{"g":"a1","v":0.35,"d":13.98,"l":-66},{"g":"a1","v":0.35,"d":14,"l":-67},{"g":"a1","v":0.35,"d":12.99,"l":-66.3},{"g":"a1","v":0.35,"d":12.5,"l":-67},{"g":"a1","v":0.35,"d":12.5,"l":-69},{"g":"a1","v":0.35,"d":12.01,"l":-70},{"g":"a1","v":0.35,"d":12.01,"l":-72},{"g":"a1","v":0.35,"d":9.99,"l":-72},{"g":"a1","v":0.35,"d":9.99,"l":-70},{"g":"a1","v":0.35,"d":7.98,"l":-68.7},{"g":"a1","v":0.35,"d":6,"l":-68.6},{"g":"a1","v":0.35,"d":5,"l":-67.8},
{"g":"a2","v":0.1,"d":5,"l":-55.9},{"g":"a2","v":0.1,"d":6,"l":-56},{"g":"a2","v":0.1,"d":6.49,"l":-57},{"g":"a2","v":0.1,"d":7.48,"l":-58},{"g":"a2","v":0.1,"d":6.99,"l":-58.5},{"g":"a2","v":0.1,"d":6,"l":-58.2},{"g":"a2","v":0.1,"d":5.4,"l":-59},{"g":"a2","v":0.1,"d":5,"l":-59.7},
{"g":"a3","v":0.65,"d":5,"l":-53},{"g":"a3","v":0.65,"d":5.68,"l":-53},{"g":"a3","v":0.65,"d":5.57,"l":-54},{"g":"a3","v":0.65,"d":5,"l":-54.3},
{"g":"a4","v":0.35,"d":5,"l":-72.9},{"g":"a4","v":0.35,"d":6,"l":-72.7},{"g":"a4","v":0.35,"d":6.35,"l":-73},{"g":"a4","v":0.35,"d":6.99,"l":-74},{"g":"a4","v":0.35,"d":6.67,"l":-75},{"g":"a4","v":0.35,"d":6.99,"l":-75.4},{"g":"a4","v":0.35,"d":7.65,"l":-77},{"g":"a4","v":0.35,"d":9.99,"l":-79.4},{"g":"a4","v":0.35,"d":10.98,"l":-79.4},{"g":"a4","v":0.35,"d":12.01,"l":-79},{"g":"a4","v":0.35,"d":12.01,"l":-80},{"g":"a4","v":0.35,"d":12.5,"l":-81},{"g":"a4","v":0.35,"d":12.5,"l":-83},{"g":"a4","v":0.35,"d":12.99,"l":-83.9},{"g":"a4","v":0.35,"d":14.02,"l":-85},{"g":"a4","v":0.35,"d":12.99,"l":-85},{"g":"a4","v":0.35,"d":12.33,"l":-86},{"g":"a4","v":0.35,"d":12.33,"l":-89},{"g":"a4","v":0.35,"d":12.41,"l":-90},{"g":"a4","v":0.35,"d":6.9,"l":-90},{"g":"a4","v":0.35,"d":6,"l":-89},{"g":"a4","v":0.35,"d":5,"l":-89},
{"g":"a5","v":0.1,"d":5,"l":-76.6},{"g":"a5","v":0.1,"d":6.49,"l":-78},{"g":"a5","v":0.1,"d":6.33,"l":-79},{"g":"a5","v":0.1,"d":6.33,"l":-81},{"g":"a5","v":0.1,"d":6,"l":-81.1},{"g":"a5","v":0.1,"d":5.79,"l":-81},{"g":"a5","v":0.1,"d":5.79,"l":-79},{"g":"a5","v":0.1,"d":5,"l":-78.3},
{"g":"a6","v":0.35,"d":9.99,"l":-77},{"g":"a6","v":0.35,"d":10.98,"l":-76},{"g":"a6","v":0.35,"d":12.01,"l":-77},{"g":"a6","v":0.35,"d":12.01,"l":-79},
{"g":"a7","v":0.35,"d":14.02,"l":-85},{"g":"a7","v":0.35,"d":15.99,"l":-85.1},{"g":"a7","v":0.35,"d":14.99,"l":-86},
{"g":"a8","v":0.65,"d":5,"l":-82.3},{"g":"a8","v":0.65,"d":5.4,"l":-82},{"g":"a8","v":0.65,"d":6,"l":-81.8},{"g":"a8","v":0.65,"d":6.35,"l":-82},{"g":"a8","v":0.65,"d":7.33,"l":-83},{"g":"a8","v":0.65,"d":7.33,"l":-86},{"g":"a8","v":0.65,"d":6.35,"l":-87},{"g":"a8","v":0.65,"d":6.35,"l":-89.4},{"g":"a8","v":0.65,"d":6,"l":-89},{"g":"a8","v":0.65,"d":5,"l":-89},
{"g":"a9","v":-0.1,"d":5,"l":-56},{"g":"a9","v":-0.1,"d":5.3,"l":-55.9},{"g":"a9","v":-0.1,"d":5.39,"l":-57},{"g":"a9","v":-0.1,"d":5,"l":-57.7},
{"g":"b0","v":-0.1,"d":10.85,"l":-57},{"g":"b0","v":-0.1,"d":10.98,"l":-56.9},{"g":"b0","v":-0.1,"d":12.5,"l":-56.9},{"g":"b0","v":-0.1,"d":12.5,"l":-58},{"g":"b0","v":-0.1,"d":12.01,"l":-58.2},{"g":"b0","v":-0.1,"d":10.98,"l":-58.2},{"g":"b0","v":-0.1,"d":10.87,"l":-58},{"g":"b0","v":-0.1,"d":10.85,"l":-57},
{"g":"b1","v":0.1,"d":10.81,"l":-64},{"g":"b1","v":0.1,"d":11.02,"l":-63.8},{"g":"b1","v":0.1,"d":11.23,"l":-64},{"g":"b1","v":0.1,"d":11.02,"l":-64.2},
{"g":"b2","v":0.65,"d":5,"l":-62.6},{"g":"b2","v":0.65,"d":6,"l":-62.1},{"g":"b2","v":0.65,"d":6.17,"l":-61.9},{"g":"b2","v":0.65,"d":6.32,"l":-61},{"g":"b2","v":0.65,"d":6.99,"l":-60.5},{"g":"b2","v":0.65,"d":7.98,"l":-61.3},{"g":"b2","v":0.65,"d":9.01,"l":-61.1},{"g":"b2","v":0.65,"d":9.61,"l":-62},{"g":"b2","v":0.65,"d":9.75,"l":-63},{"g":"b2","v":0.65,"d":9.78,"l":-65},{"g":"b2","v":0.65,"d":10.81,"l":-66},{"g":"b2","v":0.65,"d":11.32,"l":-67},{"g":"b2","v":0.65,"d":10.33,"l":-68},{"g":"b2","v":0.65,"d":9.99,"l":-68.2},{"g":"b2","v":0.65,"d":9.01,"l":-68.3},{"g":"b2","v":0.65,"d":6.99,"l":-67.2},{"g":"b2","v":0.65,"d":5,"l":-67.1},
{"g":"b3","v":0.9,"d":6.84,"l":-62},{"g":"b3","v":0.9,"d":6.99,"l":-61.7},{"g":"b3","v":0.9,"d":7.48,"l":-62},{"g":"b3","v":0.9,"d":6.99,"l":-62.7},
{"g":"b4","v":0.9,"d":7.53,"l":-65.1},{"g":"b4","v":0.9,"d":7.99,"l":-64.6},{"g":"b4","v":0.9,"d":9.01,"l":-65.6},{"g":"b4","v":0.9,"d":10.06,"l":-65.9},{"g":"b4","v":0.9,"d":9.99,"l":-66.5},{"g":"b4","v":0.9,"d":9.01,"l":-66.5},{"g":"b4","v":0.9,"d":8.46,"l":-67},{"g":"b4","v":0.9,"d":7.91,"l":-67},{"g":"b4","v":0.9,"d":7.91,"l":-65.9},
{"g":"b5","v":-0.1,"d":5,"l":-68.7},{"g":"b5","v":-0.1,"d":6,"l":-69.8},{"g":"b5","v":-0.1,"d":7.99,"l":-69.7},{"g":"b5","v":-0.1,"d":9.12,"l":-69.9},{"g":"b5","v":-0.1,"d":9.12,"l":-72},{"g":"b5","v":-0.1,"d":9.99,"l":-72.9},{"g":"b5","v":-0.1,"d":10.98,"l":-72.4},{"g":"b5","v":-0.1,"d":11.88,"l":-73},{"g":"b5","v":-0.1,"d":11.88,"l":-74},{"g":"b5","v":-0.1,"d":11.49,"l":-75},{"g":"b5","v":-0.1,"d":10.98,"l":-75.2},{"g":"b5","v":-0.1,"d":9.99,"l":-76},{"g":"b5","v":-0.1,"d":9.01,"l":-77.4},{"g":"b5","v":-0.1,"d":7.99,"l":-76.4},{"g":"b5","v":-0.1,"d":7.76,"l":-76},{"g":"b5","v":-0.1,"d":7.61,"l":-75},{"g":"b5","v":-0.1,"d":7.91,"l":-74},{"g":"b5","v":-0.1,"d":6.99,"l":-73.1},{"g":"b5","v":-0.1,"d":6,"l":-72.2},{"g":"b5","v":-0.1,"d":5,"l":-72.6},
{"g":"b6","v":-0.35,"d":5,"l":-71.8},{"g":"b6","v":-0.35,"d":5.3,"l":-72},{"g":"b6","v":-0.35,"d":5,"l":-72.1},
{"g":"b7","v":0.35,"d":15.99,"l":-67},{"g":"b7","v":0.35,"d":16.98,"l":-66.6},{"g":"b7","v":0.35,"d":17.84,"l":-65.8},{"g":"b7","v":0.35,"d":18.26,"l":-65.4},{"g":"b7","v":0.35,"d":18.26,"l":-64},{"g":"b7","v":0.35,"d":18.99,"l":-63.6},{"g":"b7","v":0.35,"d":20.23,"l":-64.3},{"g":"b7","v":0.35,"d":21.03,"l":-64.3},{"g":"b7","v":0.35,"d":21.3,"l":-63.9},{"g":"b7","v":0.35,"d":21.46,"l":-61.4},{"g":"b7","v":0.35,"d":22.51,"l":-60},{"g":"b7","v":0.35,"d":22.38,"l":-59.1},{"g":"b7","v":0.35,"d":21.84,"l":-58},{"g":"b7","v":0.35,"d":22.11,"l":-57},{"g":"b7","v":0.35,"d":22.67,"l":-56.4},{"g":"b7","v":0.35,"d":22.67,"l":-54.4},{"g":"b7","v":0.35,"d":23.02,"l":-54},{"g":"b7","v":0.35,"d":23.02,"l":-52.9},{"g":"b7","v":0.35,"d":23.99,"l":-52},{"g":"b7","v":0.35,"d":23.99,"l":-52.9},{"g":"b7","v":0.35,"d":25.01,"l":-53.5},{"g":"b7","v":0.35,"d":25.98,"l":-54.4},{"g":"b7","v":0.35,"d":27,"l":-54.5},{"g":"b7","v":0.35,"d":27,"l":-54.9},{"g":"b7","v":0.35,"d":27.43,"l":-55.3},{"g":"b7","v":0.35,"d":28.02,"l":-56},{"g":"b7","v":0.35,"d":28.99,"l":-56},{"g":"b7","v":0.35,"d":29.69,"l":-55.2},{"g":"b7","v":0.35,"d":31,"l":-55},{"g":"b7","v":0.35,"d":31,"l":-69.6},{"g":"b7","v":0.35,"d":30.01,"l":-69.9},{"g":"b7","v":0.35,"d":29.47,"l":-69.7},{"g":"b7","v":0.35,"d":29.04,"l":-68.5},{"g":"b7","v":0.35,"d":27,"l":-68.4},{"g":"b7","v":0.35,"d":26.3,"l":-68.8},{"g":"b7","v":0.35,"d":25.66,"l":-69},{"g":"b7","v":0.35,"d":25.66,"l":-73},{"g":"b7","v":0.35,"d":25.01,"l":-73},{"g":"b7","v":0.35,"d":23.99,"l":-73},{"g":"b7","v":0.35,"d":23.02,"l":-72},{"g":"b7","v":0.35,"d":21.03,"l":-72.3},{"g":"b7","v":0.35,"d":19.8,"l":-72.3},{"g":"b7","v":0.35,"d":18.99,"l":-71.1},{"g":"b7","v":0.35,"d":17.86,"l":-70},{"g":"b7","v":0.35,"d":16.98,"l":-68.6},
{"g":"b8","v":0.1,"d":23.67,"l":-69},{"g":"b8","v":0.1,"d":23.99,"l":-68.7},{"g":"b8","v":0.1,"d":26.3,"l":-69},{"g":"b8","v":0.1,"d":26.35,"l":-70},{"g":"b8","v":0.1,"d":25.6,"l":-70.9},{"g":"b8","v":0.1,"d":25.66,"l":-72.9},{"g":"b8","v":0.1,"d":25.01,"l":-73},{"g":"b8","v":0.1,"d":24.01,"l":-72},{"g":"b8","v":0.1,"d":24.01,"l":-70},
{"g":"b9","v":0.65,"d":18.1,"l":-69},{"g":"b9","v":0.65,"d":18.13,"l":-67},{"g":"b9","v":0.65,"d":18.99,"l":-65.5},{"g":"b9","v":0.65,"d":20.01,"l":-65.4},{"g":"b9","v":0.65,"d":21.62,"l":-64.3},{"g":"b9","v":0.65,"d":22,"l":-63.4},{"g":"b9","v":0.65,"d":22.4,"l":-63},{"g":"b9","v":0.65,"d":22.32,"l":-61},{"g":"b9","v":0.65,"d":23.2,"l":-60},{"g":"b9","v":0.65,"d":22.48,"l":-58},{"g":"b9","v":0.65,"d":22.91,"l":-57},{"g":"b9","v":0.65,"d":23.99,"l":-55.2},{"g":"b9","v":0.65,"d":25.98,"l":-55.5},{"g":"b9","v":0.65,"d":27,"l":-55.6},{"g":"b9","v":0.65,"d":28.02,"l":-56},{"g":"b9","v":0.65,"d":28.99,"l":-56},{"g":"b9","v":0.65,"d":29.85,"l":-55},{"g":"b9","v":0.65,"d":31,"l":-55},{"g":"b9","v":0.65,"d":31,"l":-64.2},{"g":"b9","v":0.65,"d":30.01,"l":-63.9},{"g":"b9","v":0.65,"d":28.18,"l":-66},{"g":"b9","v":0.65,"d":28.02,"l":-67.1},{"g":"b9","v":0.65,"d":26.03,"l":-68.2},{"g":"b9","v":0.65,"d":23.99,"l":-67.3},{"g":"b9","v":0.65,"d":22,"l":-69.2},{"g":"b9","v":0.65,"d":20.01,"l":-71.1},
{"g":"c0","v":0.9,"d":23.24,"l":-57.9},{"g":"c0","v":0.9,"d":23.99,"l":-57.4},{"g":"c0","v":0.9,"d":25.01,"l":-57.9},{"g":"c0","v":0.9,"d":25.98,"l":-58.5},{"g":"c0","v":0.9,"d":27.32,"l":-58.8},{"g":"c0","v":0.9,"d":27.41,"l":-60},{"g":"c0","v":0.9,"d":26.3,"l":-61},{"g":"c0","v":0.9,"d":26.73,"l":-61.9},{"g":"c0","v":0.9,"d":26.84,"l":-64.6},{"g":"c0","v":0.9,"d":26.62,"l":-67},{"g":"c0","v":0.9,"d":25.98,"l":-67.5},{"g":"c0","v":0.9,"d":25.39,"l":-67},{"g":"c0","v":0.9,"d":25.01,"l":-65.4},{"g":"c0","v":0.9,"d":24.63,"l":-64.9},{"g":"c0","v":0.9,"d":25.17,"l":-64},{"g":"c0","v":0.9,"d":24.74,"l":-62.5},{"g":"c0","v":0.9,"d":24.26,"l":-61},{"g":"c0","v":0.9,"d":24.26,"l":-58.9},
{"g":"c1","v":0.9,"d":19.74,"l":-67.9},{"g":"c1","v":0.9,"d":20.49,"l":-66},{"g":"c1","v":0.9,"d":21.03,"l":-65.6},{"g":"c1","v":0.9,"d":21.75,"l":-66.1},{"g":"c1","v":0.9,"d":21.75,"l":-67},{"g":"c1","v":0.9,"d":21.03,"l":-67.5},{"g":"c1","v":0.9,"d":20.01,"l":-69.1},{"g":"c1","v":0.9,"d":19.74,"l":-68.5},
{"g":"c2","v":0.9,"d":29.69,"l":-55.3},{"g":"c2","v":0.9,"d":30.01,"l":-55},{"g":"c2","v":0.9,"d":31,"l":-55},{"g":"c2","v":0.9,"d":31,"l":-56},
{"g":"c3","v":0.9,"d":30.17,"l":-57},{"g":"c3","v":0.9,"d":31,"l":-56},{"g":"c3","v":0.9,"d":31,"l":-57.4},
{"g":"c4","v":0.9,"d":29.69,"l":-60},{"g":"c4","v":0.9,"d":30.01,"l":-59.4},{"g":"c4","v":0.9,"d":31,"l":-58.9},{"g":"c4","v":0.9,"d":31,"l":-60},{"g":"c4","v":0.9,"d":30.44,"l":-60.7},
{"g":"c5","v":0.9,"d":30.17,"l":-62},{"g":"c5","v":0.9,"d":30.87,"l":-61},{"g":"c5","v":0.9,"d":31,"l":-61},{"g":"c5","v":0.9,"d":31,"l":-62.8},
{"g":"c6","v":0.35,"d":27.59,"l":-61},{"g":"c6","v":0.35,"d":28.34,"l":-60},{"g":"c6","v":0.35,"d":27.91,"l":-59.2},{"g":"c6","v":0.35,"d":27.91,"l":-58.8},{"g":"c6","v":0.35,"d":28.08,"l":-58},{"g":"c6","v":0.35,"d":29.04,"l":-57.4},{"g":"c6","v":0.35,"d":30.44,"l":-58},{"g":"c6","v":0.35,"d":29.42,"l":-59.1},{"g":"c6","v":0.35,"d":29.28,"l":-60},{"g":"c6","v":0.35,"d":29.42,"l":-61},{"g":"c6","v":0.35,"d":29.28,"l":-61.9},{"g":"c6","v":0.35,"d":29,"l":-62.5},
{"g":"c7","v":0.1,"d":28.85,"l":-58},{"g":"c7","v":0.1,"d":29.04,"l":-57.9},{"g":"c7","v":0.1,"d":29.24,"l":-58},{"g":"c7","v":0.1,"d":29.04,"l":-58.3},
{"g":"c8","v":0.35,"d":26.62,"l":-57},{"g":"c8","v":0.35,"d":27.02,"l":-56.5},{"g":"c8","v":0.35,"d":27.52,"l":-57},{"g":"c8","v":0.35,"d":27.02,"l":-57.5},
{"g":"c9","v":-0.1,"d":14.81,"l":-65},{"g":"c9","v":-0.1,"d":14.99,"l":-64.7},{"g":"c9","v":-0.1,"d":15.99,"l":-64.7},{"g":"c9","v":-0.1,"d":16.18,"l":-65},{"g":"c9","v":-0.1,"d":16.18,"l":-66},{"g":"c9","v":-0.1,"d":14.99,"l":-66.6},{"g":"c9","v":-0.1,"d":14.88,"l":-66.2},{"g":"c9","v":-0.1,"d":14.81,"l":-65},
{"g":"d0","v":-0.1,"d":13.46,"l":-57},{"g":"d0","v":-0.1,"d":14.99,"l":-56.8},{"g":"d0","v":-0.1,"d":15.99,"l":-56.5},{"g":"d0","v":-0.1,"d":17.01,"l":-55.8},{"g":"d0","v":-0.1,"d":17.37,"l":-55},{"g":"d0","v":-0.1,"d":16.6,"l":-54},{"g":"d0","v":-0.1,"d":16.42,"l":-52.5},{"g":"d0","v":-0.1,"d":17.01,"l":-51.3},{"g":"d0","v":-0.1,"d":18,"l":-52.2},{"g":"d0","v":-0.1,"d":18.61,"l":-51.6},{"g":"d0","v":-0.1,"d":18.99,"l":-51.9},{"g":"d0","v":-0.1,"d":18.99,"l":-52.8},{"g":"d0","v":-0.1,"d":20.55,"l":-53.2},{"g":"d0","v":-0.1,"d":21,"l":-53.1},{"g":"d0","v":-0.1,"d":21,"l":-53.7},{"g":"d0","v":-0.1,"d":21.62,"l":-54.6},{"g":"d0","v":-0.1,"d":21.89,"l":-54.9},{"g":"d0","v":-0.1,"d":20.82,"l":-54.9},{"g":"d0","v":-0.1,"d":21.71,"l":-56},{"g":"d0","v":-0.1,"d":21.17,"l":-57},{"g":"d0","v":-0.1,"d":21.09,"l":-57.9},{"g":"d0","v":-0.1,"d":22.08,"l":-58.9},{"g":"d0","v":-0.1,"d":22.08,"l":-60},{"g":"d0","v":-0.1,"d":21.09,"l":-61},{"g":"d0","v":-0.1,"d":21.03,"l":-61.4},{"g":"d0","v":-0.1,"d":20.52,"l":-62},{"g":"d0","v":-0.1,"d":20.52,"l":-63},{"g":"d0","v":-0.1,"d":20.01,"l":-63.3},{"g":"d0","v":-0.1,"d":18.85,"l":-63},{"g":"d0","v":-0.1,"d":18.91,"l":-62},{"g":"d0","v":-0.1,"d":18.63,"l":-61},{"g":"d0","v":-0.1,"d":17.99,"l":-60.4},{"g":"d0","v":-0.1,"d":17.01,"l":-61.1},{"g":"d0","v":-0.1,"d":16.18,"l":-62},{"g":"d0","v":-0.1,"d":16.18,"l":-63},{"g":"d0","v":-0.1,"d":15.99,"l":-63.3},{"g":"d0","v":-0.1,"d":14.02,"l":-63.2},{"g":"d0","v":-0.1,"d":12.99,"l":-62.1},{"g":"d0","v":-0.1,"d":12.01,"l":-62.1},{"g":"d0","v":-0.1,"d":10.81,"l":-61},{"g":"d0","v":-0.1,"d":12.01,"l":-60.5},{"g":"d0","v":-0.1,"d":12.82,"l":-61},{"g":"d0","v":-0.1,"d":12.99,"l":-61.5},{"g":"d0","v":-0.1,"d":14.49,"l":-62},{"g":"d0","v":-0.1,"d":14.99,"l":-62.5},{"g":"d0","v":-0.1,"d":15.51,"l":-62},{"g":"d0","v":-0.1,"d":15.22,"l":-61},{"g":"d0","v":-0.1,"d":14.99,"l":-60.5},{"g":"d0","v":-0.1,"d":14.86,"l":-60},{"g":"d0","v":-0.1,"d":15.72,"l":-59},{"g":"d0","v":-0.1,"d":14.99,"l":-58.2},{"g":"d0","v":-0.1,"d":14.28,"l":-58},{"g":"d0","v":-0.1,"d":14.02,"l":-57.5},
{"g":"d1","v":0.35,"d":17.51,"l":-62},{"g":"d1","v":0.35,"d":17.86,"l":-61.6},{"g":"d1","v":0.35,"d":18.18,"l":-61.9},{"g":"d1","v":0.35,"d":17.86,"l":-62.4},
{"g":"d2","v":-0.35,"d":17.02,"l":-58},{"g":"d2","v":-0.35,"d":17.56,"l":-57},{"g":"d2","v":-0.35,"d":17.41,"l":-55.7},{"g":"d2","v":-0.35,"d":17.8,"l":-55},{"g":"d2","v":-0.35,"d":18.17,"l":-54.1},{"g":"d2","v":-0.35,"d":18.99,"l":-52.8},{"g":"d2","v":-0.35,"d":20.01,"l":-53.5},{"g":"d2","v":-0.35,"d":21,"l":-53.1},{"g":"d2","v":-0.35,"d":21,"l":-53.7},{"g":"d2","v":-0.35,"d":21.62,"l":-54.6},{"g":"d2","v":-0.35,"d":20.39,"l":-54.9},{"g":"d2","v":-0.35,"d":21,"l":-56},{"g":"d2","v":-0.35,"d":20.49,"l":-57},{"g":"d2","v":-0.35,"d":20.49,"l":-57.9},{"g":"d2","v":-0.35,"d":18.99,"l":-59.6},{"g":"d2","v":-0.35,"d":17.86,"l":-59.4},
{"g":"d3","v":-0.35,"d":16.85,"l":-52.3},{"g":"d3","v":-0.35,"d":17.32,"l":-51.9},{"g":"d3","v":-0.35,"d":17.5,"l":-53.9},{"g":"d3","v":-0.35,"d":16.85,"l":-54},
{"g":"d4","v":-0.65,"d":17.8,"l":-55},{"g":"d4","v":-0.65,"d":18.18,"l":-54.9},{"g":"d4","v":-0.65,"d":18.99,"l":-53.4},{"g":"d4","v":-0.65,"d":19.8,"l":-54},{"g":"d4","v":-0.65,"d":20.01,"l":-54},{"g":"d4","v":-0.65,"d":20.98,"l":-53.7},{"g":"d4","v":-0.65,"d":21.62,"l":-54.6},{"g":"d4","v":-0.65,"d":20.39,"l":-54.7},{"g":"d4","v":-0.65,"d":19.8,"l":-54.9},{"g":"d4","v":-0.65,"d":20.12,"l":-56.2},{"g":"d4","v":-0.65,"d":19.8,"l":-55.9},{"g":"d4","v":-0.65,"d":18.18,"l":-55.5},{"g":"d4","v":-0.65,"d":17.86,"l":-55.6},
{"g":"d5","v":-0.9,"d":18.18,"l":-54.9},{"g":"d5","v":-0.9,"d":18.99,"l":-53.5},{"g":"d5","v":-0.9,"d":19.8,"l":-54},{"g":"d5","v":-0.9,"d":19.04,"l":-55.3},
{"g":"d6","v":-0.1,"d":12.09,"l":-73},{"g":"d6","v":-0.1,"d":12.86,"l":-72},{"g":"d6","v":-0.1,"d":12.86,"l":-71},{"g":"d6","v":-0.1,"d":12.99,"l":-70.7},{"g":"d6","v":-0.1,"d":14.99,"l":-70.7},{"g":"d6","v":-0.1,"d":15.99,"l":-71.3},{"g":"d6","v":-0.1,"d":16.27,"l":-71},{"g":"d6","v":-0.1,"d":15.74,"l":-70},{"g":"d6","v":-0.1,"d":14.99,"l":-69.2},{"g":"d6","v":-0.1,"d":14.49,"l":-69},{"g":"d6","v":-0.1,"d":14.02,"l":-68.5},{"g":"d6","v":-0.1,"d":13.74,"l":-68},{"g":"d6","v":-0.1,"d":14.99,"l":-67.2},{"g":"d6","v":-0.1,"d":15.99,"l":-67.8},{"g":"d6","v":-0.1,"d":17.01,"l":-68.7},{"g":"d6","v":-0.1,"d":17.5,"l":-70},{"g":"d6","v":-0.1,"d":17.5,"l":-71},{"g":"d6","v":-0.1,"d":17.99,"l":-71.3},{"g":"d6","v":-0.1,"d":18.99,"l":-71.2},{"g":"d6","v":-0.1,"d":19.8,"l":-72.1},{"g":"d6","v":-0.1,"d":20.01,"l":-72.6},{"g":"d6","v":-0.1,"d":21.03,"l":-72.9},{"g":"d6","v":-0.1,"d":23.02,"l":-72.8},{"g":"d6","v":-0.1,"d":23.99,"l":-73.9},{"g":"d6","v":-0.1,"d":25.01,"l":-73.9},{"g":"d6","v":-0.1,"d":25.69,"l":-73},{"g":"d6","v":-0.1,"d":25.6,"l":-70.9},{"g":"d6","v":-0.1,"d":26.35,"l":-70},{"g":"d6","v":-0.1,"d":26.3,"l":-69.1},{"g":"d6","v":-0.1,"d":27,"l":-68.5},{"g":"d6","v":-0.1,"d":29,"l":-68.5},{"g":"d6","v":-0.1,"d":29.49,"l":-70},{"g":"d6","v":-0.1,"d":30.01,"l":-70.3},{"g":"d6","v":-0.1,"d":31,"l":-70},{"g":"d6","v":-0.1,"d":31,"l":-90},{"g":"d6","v":-0.1,"d":12.92,"l":-90},{"g":"d6","v":-0.1,"d":12.91,"l":-86},{"g":"d6","v":-0.1,"d":12.99,"l":-85.9},{"g":"d6","v":-0.1,"d":14.02,"l":-85.9},{"g":"d6","v":-0.1,"d":14.99,"l":-86.9},{"g":"d6","v":-0.1,"d":16.9,"l":-85},{"g":"d6","v":-0.1,"d":15.09,"l":-83.9},{"g":"d6","v":-0.1,"d":14.13,"l":-83},{"g":"d6","v":-0.1,"d":14.13,"l":-82},{"g":"d6","v":-0.1,"d":13.14,"l":-81},{"g":"d6","v":-0.1,"d":13.14,"l":-79},{"g":"d6","v":-0.1,"d":14.99,"l":-77.1},{"g":"d6","v":-0.1,"d":16.12,"l":-77},{"g":"d6","v":-0.1,"d":16.08,"l":-76},{"g":"d6","v":-0.1,"d":15.14,"l":-75},{"g":"d6","v":-0.1,"d":15.09,"l":-74},{"g":"d6","v":-0.1,"d":14.99,"l":-73.4},{"g":"d6","v":-0.1,"d":14.02,"l":-74},{"g":"d6","v":-0.1,"d":12.99,"l":-74},
{"g":"d7","v":-0.35,"d":15.61,"l":-73},{"g":"d7","v":-0.35,"d":15.99,"l":-72.5},{"g":"d7","v":-0.35,"d":18.17,"l":-72.2},{"g":"d7","v":-0.35,"d":18.99,"l":-71.9},{"g":"d7","v":-0.35,"d":19.15,"l":-72.1},{"g":"d7","v":-0.35,"d":19.33,"l":-73},{"g":"d7","v":-0.35,"d":19.26,"l":-75.1},{"g":"d7","v":-0.35,"d":18.99,"l":-75.4},{"g":"d7","v":-0.35,"d":18.17,"l":-75.4},{"g":"d7","v":-0.35,"d":17.32,"l":-75.9},{"g":"d7","v":-0.35,"d":17.01,"l":-77},{"g":"d7","v":-0.35,"d":16.81,"l":-76},{"g":"d7","v":-0.35,"d":16.21,"l":-75.1},{"g":"d7","v":-0.35,"d":15.74,"l":-74.3},
{"g":"d8","v":-0.35,"d":17.01,"l":-77},{"g":"d8","v":-0.35,"d":17.86,"l":-76.8},{"g":"d8","v":-0.35,"d":18.99,"l":-77.7},{"g":"d8","v":-0.35,"d":20.06,"l":-77.9},{"g":"d8","v":-0.35,"d":20.49,"l":-78.9},{"g":"d8","v":-0.35,"d":20.49,"l":-80},{"g":"d8","v":-0.35,"d":20.17,"l":-81},{"g":"d8","v":-0.35,"d":18.99,"l":-82.3},{"g":"d8","v":-0.35,"d":18.01,"l":-82},{"g":"d8","v":-0.35,"d":18.01,"l":-80},{"g":"d8","v":-0.35,"d":17.01,"l":-79},
{"g":"d9","v":-0.35,"d":21.39,"l":-79},{"g":"d9","v":-0.35,"d":23.99,"l":-77},{"g":"d9","v":-0.35,"d":25.28,"l":-76.9},{"g":"d9","v":-0.35,"d":25.33,"l":-78},{"g":"d9","v":-0.35,"d":27,"l":-79.7},{"g":"d9","v":-0.35,"d":28.02,"l":-79.7},{"g":"d9","v":-0.35,"d":28.29,"l":-80},{"g":"d9","v":-0.35,"d":27,"l":-81.3},{"g":"d9","v":-0.35,"d":24.85,"l":-81.3},{"g":"d9","v":-0.35,"d":23.99,"l":-82.3},{"g":"d9","v":-0.35,"d":22.29,"l":-81.1},{"g":"d9","v":-0.35,"d":22.32,"l":-80.1},
{"g":"e0","v":-0.35,"d":25.62,"l":-73.9},{"g":"e0","v":-0.35,"d":26.03,"l":-73.5},{"g":"e0","v":-0.35,"d":26.97,"l":-74},{"g":"e0","v":-0.35,"d":26.03,"l":-74.5},
{"g":"e1","v":-0.35,"d":26.68,"l":-69},{"g":"e1","v":-0.35,"d":28.61,"l":-69},{"g":"e1","v":-0.35,"d":27,"l":-70.3},
{"g":"e2","v":0.1,"d":18.51,"l":-90},{"g":"e2","v":0.1,"d":18.51,"l":-89},{"g":"e2","v":0.1,"d":19.47,"l":-88},{"g":"e2","v":0.1,"d":19.47,"l":-84.9},{"g":"e2","v":0.1,"d":20.01,"l":-84.4},{"g":"e2","v":0.1,"d":21,"l":-83.1},{"g":"e2","v":0.1,"d":21.62,"l":-83.8},{"g":"e2","v":0.1,"d":22.62,"l":-85},{"g":"e2","v":0.1,"d":22.62,"l":-88},{"g":"e2","v":0.1,"d":23.51,"l":-89},{"g":"e2","v":0.1,"d":23.51,"l":-90},
{"g":"e3","v":0.1,"d":19.51,"l":-76},{"g":"e3","v":0.1,"d":20.01,"l":-75.2},{"g":"e3","v":0.1,"d":21,"l":-75.2},{"g":"e3","v":0.1,"d":21.62,"l":-76},{"g":"e3","v":0.1,"d":21.52,"l":-77.1},{"g":"e3","v":0.1,"d":21.52,"l":-78},{"g":"e3","v":0.1,"d":21,"l":-78.4},{"g":"e3","v":0.1,"d":20.01,"l":-77.1},{"g":"e3","v":0.1,"d":19.51,"l":-76.9},{"g":"e3","v":0.1,"d":19.51,"l":-76},
{"g":"e4","v":0.1,"d":31,"l":-75.4},{"g":"e4","v":0.1,"d":30.62,"l":-75},{"g":"e4","v":0.1,"d":30.62,"l":-73.9},{"g":"e4","v":0.1,"d":30.01,"l":-73.4},{"g":"e4","v":0.1,"d":29,"l":-73.4},{"g":"e4","v":0.1,"d":28.51,"l":-72},{"g":"e4","v":0.1,"d":28.02,"l":-71.4},{"g":"e4","v":0.1,"d":27.52,"l":-72},{"g":"e4","v":0.1,"d":27.22,"l":-73},{"g":"e4","v":0.1,"d":27.43,"l":-73.9},{"g":"e4","v":0.1,"d":27,"l":-74.8},{"g":"e4","v":0.1,"d":26.73,"l":-75.1},{"g":"e4","v":0.1,"d":26.84,"l":-76},{"g":"e4","v":0.1,"d":26.52,"l":-77.1},{"g":"e4","v":0.1,"d":26.52,"l":-78},{"g":"e4","v":0.1,"d":27,"l":-78.6},{"g":"e4","v":0.1,"d":29,"l":-78.8},{"g":"e4","v":0.1,"d":31,"l":-78.6},
{"g":"e5","v":0.1,"d":28.29,"l":-82.9},{"g":"e5","v":0.1,"d":28.51,"l":-81.9},{"g":"e5","v":0.1,"d":29,"l":-81.5},{"g":"e5","v":0.1,"d":30.01,"l":-82.8},{"g":"e5","v":0.1,"d":31,"l":-84},{"g":"e5","v":0.1,"d":30.01,"l":-84.9},{"g":"e5","v":0.1,"d":29,"l":-84.9},{"g":"e5","v":0.1,"d":28.29,"l":-84},{"g":"e5","v":0.1,"d":28.29,"l":-82.9},
{"g":"e6","v":0.35,"d":27.73,"l":-73},{"g":"e6","v":0.35,"d":28.02,"l":-72.5},{"g":"e6","v":0.35,"d":28.27,"l":-72.9},{"g":"e6","v":0.35,"d":28.51,"l":-74},{"g":"e6","v":0.35,"d":28.02,"l":-74.3},{"g":"e6","v":0.35,"d":27.88,"l":-74},
{"g":"e7","v":0.35,"d":27.51,"l":-77},{"g":"e7","v":0.35,"d":27.65,"l":-75.9},{"g":"e7","v":0.35,"d":28.02,"l":-75.5},{"g":"e7","v":0.35,"d":29,"l":-75.4},{"g":"e7","v":0.35,"d":29.67,"l":-76},{"g":"e7","v":0.35,"d":29.67,"l":-78},{"g":"e7","v":0.35,"d":29,"l":-78.3},{"g":"e7","v":0.35,"d":28.02,"l":-77.5},
{"g":"e8","v":0.35,"d":29,"l":-83.1},{"g":"e8","v":0.35,"d":30.01,"l":-84},{"g":"e8","v":0.35,"d":29,"l":-84}
],
"lc":[
{"g":"m1","d":16.42,"l":-52.5},{"g":"m1","d":16.6,"l":-54},{"g":"m1","d":17.37,"l":-55},{"g":"m1","d":17.01,"l":-55.8},{"g":"m1","d":15.99,"l":-56.5},{"g":"m1","d":14.99,"l":-56.8},{"g":"m1","d":13.46,"l":-57},{"g":"m1","d":14.02,"l":-57.5},{"g":"m1","d":14.28,"l":-58},{"g":"m1","d":14.99,"l":-58.2},{"g":"m1","d":15.72,"l":-59},{"g":"m1","d":14.86,"l":-60},{"g":"m1","d":14.99,"l":-60.5},{"g":"m1","d":15.22,"l":-61},{"g":"m1","d":15.51,"l":-62},{"g":"m1","d":14.99,"l":-62.5},{"g":"m1","d":14.49,"l":-62},{"g":"m1","d":12.99,"l":-61.5},{"g":"m1","d":12.82,"l":-61},{"g":"m1","d":12.01,"l":-60.5},{"g":"m1","d":10.81,"l":-61},{"g":"m1","d":12.01,"l":-62.1},{"g":"m1","d":12.99,"l":-62.1},{"g":"m1","d":14.02,"l":-63.2},{"g":"m1","d":15.99,"l":-63.3},{"g":"m1","d":16.18,"l":-63},{"g":"m1","d":16.18,"l":-62},{"g":"m1","d":17.01,"l":-61.1},{"g":"m1","d":17.99,"l":-60.4},{"g":"m1","d":18.63,"l":-61},{"g":"m1","d":18.91,"l":-62},{"g":"m1","d":18.85,"l":-63},{"g":"m1","d":20.01,"l":-63.3},{"g":"m1","d":20.52,"l":-63},{"g":"m1","d":20.52,"l":-62},{"g":"m1","d":21.03,"l":-61.4},{"g":"m1","d":21.09,"l":-61},{"g":"m1","d":22.08,"l":-60},{"g":"m1","d":22.08,"l":-58.9},{"g":"m1","d":21.09,"l":-57.9},{"g":"m1","d":21.17,"l":-57},{"g":"m1","d":21.71,"l":-56},{"g":"m1","d":20.82,"l":-54.9},{"g":"m1","d":21.89,"l":-54.9},
{"g":"m2","d":17.01,"l":-51.3},{"g":"m2","d":18,"l":-52.2},{"g":"m2","d":18.61,"l":-51.6},
{"g":"m3","d":12.09,"l":-73},{"g":"m3","d":12.86,"l":-72},{"g":"m3","d":12.86,"l":-71},{"g":"m3","d":12.99,"l":-70.7},{"g":"m3","d":14.99,"l":-70.7},{"g":"m3","d":15.99,"l":-71.3},{"g":"m3","d":16.27,"l":-71},{"g":"m3","d":15.74,"l":-70},{"g":"m3","d":14.99,"l":-69.2},{"g":"m3","d":14.49,"l":-69},{"g":"m3","d":14.02,"l":-68.5},{"g":"m3","d":13.74,"l":-68},{"g":"m3","d":14.99,"l":-67.2},{"g":"m3","d":15.99,"l":-67.8},{"g":"m3","d":17.01,"l":-68.7},{"g":"m3","d":17.5,"l":-70},{"g":"m3","d":17.5,"l":-71},{"g":"m3","d":17.99,"l":-71.3},{"g":"m3","d":18.99,"l":-71.2},{"g":"m3","d":19.8,"l":-72.1},{"g":"m3","d":20.01,"l":-72.6},{"g":"m3","d":21.03,"l":-72.9},{"g":"m3","d":23.02,"l":-72.8},{"g":"m3","d":23.99,"l":-73.9},{"g":"m3","d":25.01,"l":-73.9},{"g":"m3","d":25.69,"l":-73},{"g":"m3","d":25.6,"l":-70.9},{"g":"m3","d":26.35,"l":-70},{"g":"m3","d":26.3,"l":-69.1},{"g":"m3","d":27,"l":-68.5},{"g":"m3","d":29,"l":-68.5},{"g":"m3","d":29.49,"l":-70},{"g":"m3","d":30.01,"l":-70.3},{"g":"m3","d":31,"l":-70},
{"g":"m4","d":12.92,"l":-90},{"g":"m4","d":12.91,"l":-86},{"g":"m4","d":12.99,"l":-85.9},{"g":"m4","d":14.02,"l":-85.9},{"g":"m4","d":14.99,"l":-86.9},{"g":"m4","d":16.9,"l":-85},{"g":"m4","d":15.09,"l":-83.9},{"g":"m4","d":14.13,"l":-83},{"g":"m4","d":14.13,"l":-82},{"g":"m4","d":13.14,"l":-81},{"g":"m4","d":13.14,"l":-79},{"g":"m4","d":14.99,"l":-77.1},{"g":"m4","d":16.12,"l":-77},{"g":"m4","d":16.08,"l":-76},{"g":"m4","d":15.14,"l":-75},{"g":"m4","d":15.09,"l":-74},{"g":"m4","d":14.99,"l":-73.4},{"g":"m4","d":14.02,"l":-74},{"g":"m4","d":12.99,"l":-74},{"g":"m4","d":12.09,"l":-73},
{"g":"r1","d":16.81,"l":-56.9},{"g":"r1","d":17.02,"l":-56.6},{"g":"r1","d":17.11,"l":-56.9},{"g":"r1","d":17.02,"l":-57.2},{"g":"r1","d":16.81,"l":-56.9},
{"g":"r2","d":16.71,"l":-59},{"g":"r2","d":17.02,"l":-58.7},{"g":"r2","d":17.11,"l":-59},{"g":"r2","d":17.02,"l":-59.3},{"g":"r2","d":16.71,"l":-59},
{"g":"r3","d":16.71,"l":-72},{"g":"r3","d":17,"l":-71.6},{"g":"r3","d":17.2,"l":-72},{"g":"r3","d":16.71,"l":-72.1},{"g":"r3","d":16.71,"l":-72}
]
},
"spacing":13,
"vconcat":[
{"spacing":0,"hconcat":[
{"width":40,"height":10,"data":{"values":[{"a":0}]},"mark":{"type":"point","opacity":0},"encoding":{}},
{"width":824,"height":765.5,"resolve":{"axis":{"x":"independent","y":"independent"}},"layer":[
{"data":{"name":"fits"},"transform":[{"filter":"datum.s=='w'"}],"mark":{"type":"line","color":"#0a0aa0","strokeWidth":4.5},"encoding":{"x":{"field":"x","type":"quantitative","scale":{"domain":[4.25,15],"nice":false},"axis":{"values":[5,10,15],"tickSize":-12,"labelPadding":45,"labelExpr":"''+datum.value","title":"Âₚ","titleFont":"DejaVu Serif","titleFontStyle":"italic","titleFontSize":50,"titlePadding":22}},"y":{"field":"y","type":"quantitative","scale":{"domain":[5,7.5],"nice":false},"axis":{"values":[5,5.5,6,6.5,7,7.5],"tickSize":-12,"labelPadding":48,"labelExpr":"''+datum.value","title":"NO₂  (cm⁻²)","titleFont":"DejaVu Serif","titleFontWeight":"bold","titleFontSize":54,"titlePadding":30}}}},
{"data":{"name":"fits"},"transform":[{"filter":"datum.s=='e'"}],"mark":{"type":"line","color":"#800a30","strokeWidth":4.5},"encoding":{"x":{"field":"x","type":"quantitative","axis":null},"y":{"field":"y","type":"quantitative","axis":null}}},
{"data":{"name":"fits"},"transform":[{"filter":"datum.s=='all'"}],"mark":{"type":"line","color":"#fdb90d","strokeWidth":8},"encoding":{"x":{"field":"x","type":"quantitative","axis":null},"y":{"field":"y","type":"quantitative","axis":null}}},
{"data":{"name":"pts"},"transform":[{"filter":"datum.s=='w'"}],"mark":{"type":"rule","color":"#1b78c8","strokeWidth":2.5},"encoding":{"x":{"field":"x","type":"quantitative","axis":null},"y":{"field":"lo","type":"quantitative","axis":null},"y2":{"field":"hi"}}},
{"data":{"name":"pts"},"transform":[{"filter":"datum.s=='e'"}],"mark":{"type":"rule","color":"#e8501e","strokeWidth":2.5},"encoding":{"x":{"field":"x","type":"quantitative","axis":null},"y":{"field":"lo","type":"quantitative","axis":null},"y2":{"field":"hi"}}},
{"data":{"name":"pts"},"transform":[{"filter":"datum.s=='w'"}],"mark":{"type":"tick","orient":"horizontal","color":"#1b78c8","size":28,"thickness":2.5,"opacity":1},"encoding":{"x":{"field":"x","type":"quantitative","axis":null},"y":{"field":"lo","type":"quantitative","axis":null}}},
{"data":{"name":"pts"},"transform":[{"filter":"datum.s=='w'"}],"mark":{"type":"tick","orient":"horizontal","color":"#1b78c8","size":28,"thickness":2.5,"opacity":1},"encoding":{"x":{"field":"x","type":"quantitative","axis":null},"y":{"field":"hi","type":"quantitative","axis":null}}},
{"data":{"name":"pts"},"transform":[{"filter":"datum.s=='e'"}],"mark":{"type":"tick","orient":"horizontal","color":"#e8501e","size":28,"thickness":2.5,"opacity":1},"encoding":{"x":{"field":"x","type":"quantitative","axis":null},"y":{"field":"lo","type":"quantitative","axis":null}}},
{"data":{"name":"pts"},"transform":[{"filter":"datum.s=='e'"}],"mark":{"type":"tick","orient":"horizontal","color":"#e8501e","size":28,"thickness":2.5,"opacity":1},"encoding":{"x":{"field":"x","type":"quantitative","axis":null},"y":{"field":"hi","type":"quantitative","axis":null}}},
{"data":{"name":"pts"},"transform":[{"filter":"datum.s=='w'"}],"mark":{"type":"circle","color":"#0a5af5","size":300,"opacity":1},"encoding":{"x":{"field":"x","type":"quantitative","axis":null},"y":{"field":"y","type":"quantitative","axis":null}}},
{"data":{"name":"pts"},"transform":[{"filter":"datum.s=='e'"}],"mark":{"type":"point","shape":"triangle-up","filled":true,"color":"#c8002f","size":450,"opacity":1},"encoding":{"x":{"field":"x","type":"quantitative","axis":null},"y":{"field":"y","type":"quantitative","axis":null}}},
{"data":{"name":"rho"},"transform":[{"filter":"datum.c=='w'"}],"mark":{"type":"text","align":"left","baseline":"middle","fontSize":45,"color":"#0a5af5"},"encoding":{"x":{"field":"x","type":"quantitative","axis":null},"y":{"field":"y","type":"quantitative","axis":null},"text":{"field":"t"}}},
{"data":{"name":"rho"},"transform":[{"filter":"datum.c=='e'"}],"mark":{"type":"text","align":"left","baseline":"middle","fontSize":45,"color":"#c8002f"},"encoding":{"x":{"field":"x","type":"quantitative","axis":null},"y":{"field":"y","type":"quantitative","axis":null},"text":{"field":"t"}}},
{"data":{"name":"rho"},"transform":[{"filter":"datum.c=='all'"}],"mark":{"type":"text","align":"left","baseline":"middle","fontSize":45,"color":"#fbb100"},"encoding":{"x":{"field":"x","type":"quantitative","axis":null},"y":{"field":"y","type":"quantitative","axis":null},"text":{"field":"t"}}},
{"data":{"values":[{"t":"(a)Oct (inside PV)","x":4.38,"y":7.39}]},"mark":{"type":"text","align":"left","baseline":"middle","font":"DejaVu Serif","fontWeight":"bold","fontSize":50,"color":"#111"},"encoding":{"x":{"field":"x","type":"quantitative","axis":null},"y":{"field":"y","type":"quantitative","axis":null},"text":{"field":"t"}}},
{"data":{"values":[{"t":"× 10","x":4.33,"y":7.605,"f":50},{"t":"14","x":5.81,"y":7.675,"f":40}]},"mark":{"type":"text","align":"left","baseline":"middle","color":"#262626"},"encoding":{"x":{"field":"x","type":"quantitative","axis":null},"y":{"field":"y","type":"quantitative","axis":null},"text":{"field":"t"},"size":{"field":"f","type":"quantitative","scale":null,"legend":null}}},
{"data":{"name":"pts"},"mark":{"type":"rule","opacity":0},"encoding":{"x":{"field":"x","type":"quantitative","axis":{"orient":"top","values":[5,10,15],"tickSize":-12,"labels":false,"title":null}},"y":{"field":"y","type":"quantitative","axis":{"orient":"right","values":[5,5.5,6,6.5,7,7.5],"tickSize":-12,"labels":false,"title":null}}}}
]},
{"width":626,"height":567,"encoding":{"x":{"field":"x","type":"quantitative","scale":{"domain":[0,1]},"axis":null},"y":{"field":"y","type":"quantitative","scale":{"domain":[1,0]},"axis":null}},"layer":[
{"data":{"values":[{"x":0.0559,"x2":1,"y":0.402,"y2":1}]},"mark":{"type":"rect","fill":"white","stroke":"#262626","strokeWidth":2},"encoding":{"x2":{"field":"x2"},"y2":{"field":"y2"}}},
{"data":{"values":[{"x":0.1933,"y":0.42,"y2":0.518}]},"mark":{"type":"rule","color":"#1b78c8","strokeWidth":2.5},"encoding":{"y2":{"field":"y2"}}},
{"data":{"values":[{"x":0.1933,"y":0.42},{"x":0.1933,"y":0.518}]},"mark":{"type":"tick","orient":"horizontal","color":"#1b78c8","size":28,"thickness":2.5,"opacity":1}},
{"data":{"values":[{"x":0.1933,"y":0.535,"y2":0.633}]},"mark":{"type":"rule","color":"#e8501e","strokeWidth":2.5},"encoding":{"y2":{"field":"y2"}}},
{"data":{"values":[{"x":0.1933,"y":0.535},{"x":0.1933,"y":0.633}]},"mark":{"type":"tick","orient":"horizontal","color":"#e8501e","size":28,"thickness":2.5,"opacity":1}},
{"data":{"values":[{"x":0.1933,"y":0.469}]},"mark":{"type":"circle","color":"#0a5af5","size":300,"opacity":1}},
{"data":{"values":[{"x":0.1933,"y":0.584}]},"mark":{"type":"point","shape":"triangle-up","filled":true,"color":"#c8002f","size":450,"opacity":1}},
{"data":{"values":[{"x":0.0879,"x2":0.3019,"y":0.7}]},"mark":{"type":"rule","color":"#fdb90d","strokeWidth":8},"encoding":{"x2":{"field":"x2"}}},
{"data":{"values":[{"x":0.0879,"x2":0.3019,"y":0.817}]},"mark":{"type":"rule","color":"#0a0aa0","strokeWidth":4.5},"encoding":{"x2":{"field":"x2"}}},
{"data":{"values":[{"x":0.0879,"x2":0.3019,"y":0.933}]},"mark":{"type":"rule","color":"#800a30","strokeWidth":4.5},"encoding":{"x2":{"field":"x2"}}},
{"data":{"name":"leg"},"mark":{"type":"text","align":"left","baseline":"middle","fontSize":54,"color":"#262626"},"encoding":{"text":{"field":"t"}}}
]}
]},
{"spacing":10,"hconcat":[
{"spacing":85,"vconcat":[
{"width":1643,"height":710,"resolve":{"axis":{"x":"independent","y":"independent"}},"layer":[
{"data":{"name":"fb"},"mark":{"type":"line","filled":true,"order":false,"clip":true},"encoding":{"x":{"field":"d","type":"quantitative","scale":{"domain":[5,31],"nice":false},"axis":{"values":[5,10,15,20,25,30],"tickSize":17,"labels":false,"title":null}},"y":{"field":"l","type":"quantitative","scale":{"domain":[-90,-50],"nice":false},"axis":{"values":[-50,-60,-70,-80,-90],"tickSize":17,"labelPadding":10,"labelFontSize":56,"labelExpr":"datum.value+'°'","title":"Latitude (°)","titleFontSize":50,"titlePadding":-8}},"detail":{"field":"g"},"color":{"field":"v","type":"quantitative","scale":{"type":"threshold","domain":[-0.8,-0.5,-0.2,0,0.2,0.5,0.8],"range":["#042e60","#2b78b9","#b4d9ea","#e8f2f6","#fcefe6","#f4a582","#b2182b","#67001f"]},"legend":null}}},
{"data":{"name":"fb"},"transform":[{"filter":"datum.g=='a3'||datum.g=='a9'"}],"mark":{"type":"line","order":false,"clip":true,"color":"black","strokeWidth":5.5},"encoding":{"x":{"field":"d","type":"quantitative","axis":null},"y":{"field":"l","type":"quantitative","axis":null},"detail":{"field":"g"}}},
{"data":{"name":"lb"},"mark":{"type":"line","order":false,"clip":true,"color":"black","strokeWidth":5.5},"encoding":{"x":{"field":"d","type":"quantitative","axis":null},"y":{"field":"l","type":"quantitative","axis":null},"detail":{"field":"g"}}},
{"data":{"name":"db"},"mark":{"type":"circle","color":"black","size":80,"opacity":1},"encoding":{"x":{"field":"d","type":"quantitative","axis":null},"y":{"field":"l","type":"quantitative","axis":null}}},
{"data":{"values":[{"t":"(b) eQBO (inside PV)","d":5.68,"l":-51.8}]},"mark":{"type":"text","align":"left","baseline":"middle","font":"DejaVu Serif","fontWeight":"bold","fontSize":52,"color":"#111"},"encoding":{"x":{"field":"d","type":"quantitative","axis":null},"y":{"field":"l","type":"quantitative","axis":null},"text":{"field":"t"}}},
{"data":{"values":[{"d":31,"d2":31.28,"l":-50},{"d":31,"d2":31.28,"l":-90}]},"mark":{"type":"rule","color":"#262626","strokeWidth":2.5,"clip":false},"encoding":{"x":{"field":"d","type":"quantitative","axis":null},"x2":{"field":"d2"},"y":{"field":"l","type":"quantitative","axis":null}}},
{"data":{"values":[{"d":5,"l":-50},{"d":31,"l":-90}]},"mark":{"type":"rule","opacity":0},"encoding":{"x":{"field":"d","type":"quantitative","axis":{"orient":"top","values":[5,10,15,20,25,30],"tickSize":17,"labels":false,"title":null}},"y":{"field":"l","type":"quantitative","axis":{"orient":"right","values":[-60,-70,-80,-90],"tickSize":17,"labels":false,"title":null}}}}
]},
{"width":1643,"height":706.5,"resolve":{"axis":{"x":"independent","y":"independent"}},"layer":[
{"data":{"name":"fc"},"mark":{"type":"line","filled":true,"order":false,"clip":true},"encoding":{"x":{"field":"d","type":"quantitative","scale":{"domain":[5,31],"nice":false},"axis":{"values":[5,10,15,20,25,30],"tickSize":17,"labelPadding":25,"labelFontSize":56,"labelOffset":-7,"labelExpr":"datum.value+' Oct'","title":null}},"y":{"field":"l","type":"quantitative","scale":{"domain":[-90,-50],"nice":false},"axis":{"values":[-50,-60,-70,-80,-90],"tickSize":17,"labelPadding":10,"labelFontSize":56,"labelExpr":"datum.value+'°'","title":"Latitude (°)","titleFontSize":50,"titlePadding":-8}},"detail":{"field":"g"},"color":{"field":"v","type":"quantitative","scale":{"type":"threshold","domain":[-0.8,-0.5,-0.2,0,0.2,0.5,0.8],"range":["#042e60","#2b78b9","#b4d9ea","#e8f2f6","#fcefe6","#f4a582","#b2182b","#67001f"]},"legend":null}}},
{"data":{"name":"fc"},"transform":[{"filter":"indexof(['a9','b0','b5','c9','e2','e3','e4','e5'],datum.g)>=0"}],"mark":{"type":"line","order":false,"clip":true,"color":"black","strokeWidth":5.5},"encoding":{"x":{"field":"d","type":"quantitative","axis":null},"y":{"field":"l","type":"quantitative","axis":null},"detail":{"field":"g"}}},
{"data":{"name":"lc"},"mark":{"type":"line","order":false,"clip":true,"color":"black","strokeWidth":5.5},"encoding":{"x":{"field":"d","type":"quantitative","axis":null},"y":{"field":"l","type":"quantitative","axis":null},"detail":{"field":"g"}}},
{"data":{"name":"lc"},"transform":[{"filter":"indexof(['r1','r2','r3'],datum.g)>=0"}],"mark":{"type":"line","filled":true,"order":false,"clip":true,"color":"black"},"encoding":{"x":{"field":"d","type":"quantitative","axis":null},"y":{"field":"l","type":"quantitative","axis":null},"detail":{"field":"g"}}},
{"data":{"name":"dc"},"mark":{"type":"circle","color":"black","size":80,"opacity":1},"encoding":{"x":{"field":"d","type":"quantitative","axis":null},"y":{"field":"l","type":"quantitative","axis":null}}},
{"data":{"values":[{"t":"(c) wQBO (inside PV)","d":5.75,"l":-51.87}]},"mark":{"type":"text","align":"left","baseline":"middle","font":"DejaVu Serif","fontWeight":"bold","fontSize":52,"color":"#111"},"encoding":{"x":{"field":"d","type":"quantitative","axis":null},"y":{"field":"l","type":"quantitative","axis":null},"text":{"field":"t"}}},
{"data":{"values":[{"d":31,"d2":31.28,"l":-50},{"d":31,"d2":31.28,"l":-90}]},"mark":{"type":"rule","color":"#262626","strokeWidth":2.5,"clip":false},"encoding":{"x":{"field":"d","type":"quantitative","axis":null},"x2":{"field":"d2"},"y":{"field":"l","type":"quantitative","axis":null}}},
{"data":{"values":[{"d":5,"l":-50},{"d":31,"l":-90}]},"mark":{"type":"rule","opacity":0},"encoding":{"x":{"field":"d","type":"quantitative","axis":{"orient":"top","values":[5,10,15,20,25,30],"tickSize":17,"labels":false,"title":null}},"y":{"field":"l","type":"quantitative","axis":{"orient":"right","values":[-60,-70,-80,-90],"tickSize":17,"labels":false,"title":null}}}}
]}
]},
{"width":41,"height":1561.6,"view":{"stroke":"#262626","strokeWidth":2},"data":{"name":"cb"},"mark":{"type":"rect"},"encoding":{"x":{"datum":0,"type":"quantitative","scale":{"domain":[0,1]},"axis":null},"x2":{"datum":1},"y":{"field":"lo","type":"quantitative","scale":{"domain":[-1,1],"nice":false},"axis":{"orient":"right","values":[-1,-0.8,-0.5,-0.2,0,0.2,0.5,0.8,1],"tickSize":-17,"domain":false,"labelPadding":36,"labelExpr":"''+datum.value","title":"Correlation  coefficient","titleFontSize":50,"titlePadding":48,"titleAngle":270,"titleY":806}},"y2":{"field":"hi"},"color":{"field":"v","type":"quantitative","scale":{"type":"threshold","domain":[-0.8,-0.5,-0.2,0,0.2,0.5,0.8],"range":["#042e60","#2b78b9","#b4d9ea","#e8f2f6","#fcefe6","#f4a582","#b2182b","#67001f"]},"legend":null}}}
]}
]}
